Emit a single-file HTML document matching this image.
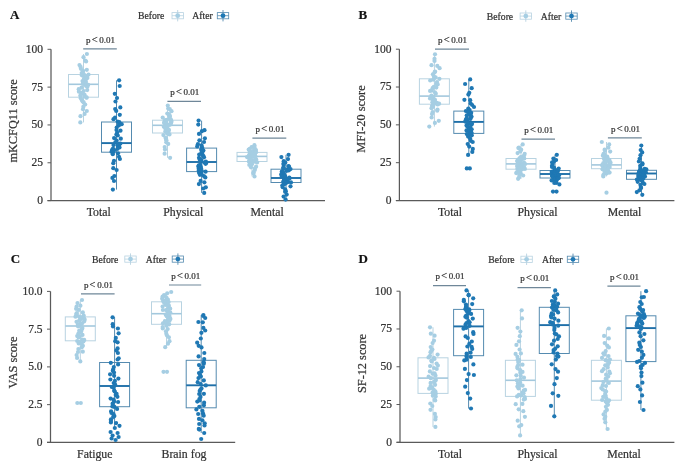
<!DOCTYPE html>
<html><head><meta charset="utf-8"><style>
html,body{margin:0;padding:0;background:#fff;}
svg{display:block;font-family:"Liberation Serif",serif;filter:blur(0.6px);}
text{stroke:#333;stroke-width:0.22px;}
</style></head><body>
<svg width="685" height="469" viewBox="0 0 685 469">
<rect width="685" height="469" fill="#fff"/>
<text x="10.00" y="18.80" font-size="13" text-anchor="start" font-weight="bold" fill="#111" >A</text>
<text x="138.00" y="19.20" font-size="9.7" text-anchor="start" font-weight="normal" fill="#333333" >Before</text>
<text x="192.30" y="19.20" font-size="9.7" text-anchor="start" font-weight="normal" fill="#333333" >After</text>
<line x1="177.70" y1="10.00" x2="177.70" y2="21.40" stroke="#b8d3e1" stroke-width="0.9"/>
<rect x="172.00" y="12.60" width="11.40" height="6.20" fill="none" stroke="#b8d3e1" stroke-width="0.8"/>
<line x1="172.00" y1="15.70" x2="183.40" y2="15.70" stroke="#b8d3e1" stroke-width="0.8"/>
<circle cx="177.7" cy="15.7" r="2.4" fill="#a6cee3"/>
<line x1="223.00" y1="10.00" x2="223.00" y2="21.40" stroke="#558bb0" stroke-width="0.9"/>
<rect x="217.30" y="12.60" width="11.40" height="6.20" fill="none" stroke="#558bb0" stroke-width="0.8"/>
<line x1="217.30" y1="15.70" x2="228.70" y2="15.70" stroke="#558bb0" stroke-width="0.8"/>
<circle cx="223.0" cy="15.7" r="2.4" fill="#1f78b4"/>
<line x1="51.00" y1="49.20" x2="51.00" y2="200.60" stroke="#5a5a5a" stroke-width="1.25"/>
<line x1="47.50" y1="200.60" x2="325.00" y2="200.60" stroke="#5a5a5a" stroke-width="1.25"/>
<line x1="47.50" y1="49.30" x2="51.00" y2="49.30" stroke="#5a5a5a" stroke-width="1.0"/>
<text x="43.00" y="52.70" font-size="11.5" text-anchor="end" font-weight="normal" fill="#333333" >100</text>
<line x1="47.50" y1="87.12" x2="51.00" y2="87.12" stroke="#5a5a5a" stroke-width="1.0"/>
<text x="43.00" y="90.53" font-size="11.5" text-anchor="end" font-weight="normal" fill="#333333" >75</text>
<line x1="47.50" y1="124.95" x2="51.00" y2="124.95" stroke="#5a5a5a" stroke-width="1.0"/>
<text x="43.00" y="128.35" font-size="11.5" text-anchor="end" font-weight="normal" fill="#333333" >50</text>
<line x1="47.50" y1="162.78" x2="51.00" y2="162.78" stroke="#5a5a5a" stroke-width="1.0"/>
<text x="43.00" y="166.18" font-size="11.5" text-anchor="end" font-weight="normal" fill="#333333" >25</text>
<line x1="47.50" y1="200.60" x2="51.00" y2="200.60" stroke="#5a5a5a" stroke-width="1.0"/>
<text x="43.00" y="204.00" font-size="11.5" text-anchor="end" font-weight="normal" fill="#333333" >0</text>
<text x="0" y="0" font-size="12.3" text-anchor="middle" fill="#333333" transform="translate(17,121) rotate(-90)">mKCFQ11 score</text>
<text x="98.70" y="216.00" font-size="11.8" text-anchor="middle" font-weight="normal" fill="#333333" >Total</text>
<text x="183.30" y="216.00" font-size="11.8" text-anchor="middle" font-weight="normal" fill="#333333" >Physical</text>
<text x="267.10" y="216.00" font-size="11.8" text-anchor="middle" font-weight="normal" fill="#333333" >Mental</text>
<line x1="83.50" y1="54.00" x2="83.50" y2="122.40" stroke="#b8d3e1" stroke-width="1.0"/>
<rect x="68.50" y="74.50" width="30.00" height="22.70" fill="none" stroke="#b8d3e1" stroke-width="1.0"/>
<line x1="68.50" y1="84.30" x2="98.50" y2="84.30" stroke="#a3c8dd" stroke-width="1.6"/>
<circle cx="86.9" cy="54.0" r="2.1" fill="#a6cee3"/>
<circle cx="83.5" cy="57.2" r="2.1" fill="#a6cee3"/>
<circle cx="85.2" cy="60.6" r="2.1" fill="#a6cee3"/>
<circle cx="86.1" cy="61.4" r="2.1" fill="#a6cee3"/>
<circle cx="79.5" cy="65.1" r="2.1" fill="#a6cee3"/>
<circle cx="80.6" cy="66.9" r="2.1" fill="#a6cee3"/>
<circle cx="80.9" cy="68.8" r="2.1" fill="#a6cee3"/>
<circle cx="86.8" cy="69.8" r="2.1" fill="#a6cee3"/>
<circle cx="83.1" cy="70.8" r="2.1" fill="#a6cee3"/>
<circle cx="83.0" cy="72.0" r="2.1" fill="#a6cee3"/>
<circle cx="81.7" cy="73.0" r="2.1" fill="#a6cee3"/>
<circle cx="82.3" cy="74.0" r="2.1" fill="#a6cee3"/>
<circle cx="84.0" cy="74.5" r="2.1" fill="#a6cee3"/>
<circle cx="88.5" cy="74.6" r="2.1" fill="#a6cee3"/>
<circle cx="81.9" cy="75.3" r="2.1" fill="#a6cee3"/>
<circle cx="86.9" cy="76.5" r="2.1" fill="#a6cee3"/>
<circle cx="84.7" cy="77.4" r="2.1" fill="#a6cee3"/>
<circle cx="87.4" cy="78.0" r="2.1" fill="#a6cee3"/>
<circle cx="84.0" cy="78.7" r="2.1" fill="#a6cee3"/>
<circle cx="85.8" cy="79.2" r="2.1" fill="#a6cee3"/>
<circle cx="84.0" cy="79.9" r="2.1" fill="#a6cee3"/>
<circle cx="82.5" cy="81.0" r="2.1" fill="#a6cee3"/>
<circle cx="85.8" cy="81.7" r="2.1" fill="#a6cee3"/>
<circle cx="83.4" cy="82.3" r="2.1" fill="#a6cee3"/>
<circle cx="85.7" cy="82.8" r="2.1" fill="#a6cee3"/>
<circle cx="82.8" cy="84.0" r="2.1" fill="#a6cee3"/>
<circle cx="88.2" cy="84.8" r="2.1" fill="#a6cee3"/>
<circle cx="85.9" cy="85.8" r="2.1" fill="#a6cee3"/>
<circle cx="87.4" cy="86.8" r="2.1" fill="#a6cee3"/>
<circle cx="81.5" cy="87.7" r="2.1" fill="#a6cee3"/>
<circle cx="78.7" cy="89.2" r="2.1" fill="#a6cee3"/>
<circle cx="87.2" cy="90.1" r="2.1" fill="#a6cee3"/>
<circle cx="83.7" cy="91.1" r="2.1" fill="#a6cee3"/>
<circle cx="78.9" cy="91.7" r="2.1" fill="#a6cee3"/>
<circle cx="81.0" cy="92.8" r="2.1" fill="#a6cee3"/>
<circle cx="82.4" cy="93.7" r="2.1" fill="#a6cee3"/>
<circle cx="84.6" cy="94.8" r="2.1" fill="#a6cee3"/>
<circle cx="80.3" cy="95.7" r="2.1" fill="#a6cee3"/>
<circle cx="84.4" cy="96.4" r="2.1" fill="#a6cee3"/>
<circle cx="86.5" cy="97.4" r="2.1" fill="#a6cee3"/>
<circle cx="86.6" cy="97.7" r="2.1" fill="#a6cee3"/>
<circle cx="80.8" cy="98.3" r="2.1" fill="#a6cee3"/>
<circle cx="82.0" cy="100.3" r="2.1" fill="#a6cee3"/>
<circle cx="82.6" cy="101.5" r="2.1" fill="#a6cee3"/>
<circle cx="83.7" cy="102.4" r="2.1" fill="#a6cee3"/>
<circle cx="85.2" cy="104.5" r="2.1" fill="#a6cee3"/>
<circle cx="83.4" cy="106.7" r="2.1" fill="#a6cee3"/>
<circle cx="83.0" cy="109.2" r="2.1" fill="#a6cee3"/>
<circle cx="86.8" cy="111.0" r="2.1" fill="#a6cee3"/>
<circle cx="84.6" cy="113.9" r="2.1" fill="#a6cee3"/>
<circle cx="80.5" cy="116.2" r="2.1" fill="#a6cee3"/>
<circle cx="80.3" cy="122.4" r="2.1" fill="#a6cee3"/>
<line x1="116.50" y1="80.30" x2="116.50" y2="189.60" stroke="#558bb0" stroke-width="1.0"/>
<rect x="101.50" y="122.00" width="30.00" height="30.20" fill="none" stroke="#558bb0" stroke-width="1.0"/>
<line x1="101.50" y1="143.10" x2="131.50" y2="143.10" stroke="#1f70a9" stroke-width="1.9"/>
<circle cx="119.1" cy="80.3" r="2.1" fill="#1f78b4"/>
<circle cx="119.7" cy="86.0" r="2.1" fill="#1f78b4"/>
<circle cx="114.8" cy="93.8" r="2.1" fill="#1f78b4"/>
<circle cx="117.0" cy="98.0" r="2.1" fill="#1f78b4"/>
<circle cx="115.5" cy="101.5" r="2.1" fill="#1f78b4"/>
<circle cx="120.3" cy="107.4" r="2.1" fill="#1f78b4"/>
<circle cx="115.2" cy="109.0" r="2.1" fill="#1f78b4"/>
<circle cx="116.2" cy="110.9" r="2.1" fill="#1f78b4"/>
<circle cx="119.8" cy="114.8" r="2.1" fill="#1f78b4"/>
<circle cx="115.0" cy="117.7" r="2.1" fill="#1f78b4"/>
<circle cx="113.5" cy="119.2" r="2.1" fill="#1f78b4"/>
<circle cx="117.6" cy="121.5" r="2.1" fill="#1f78b4"/>
<circle cx="119.3" cy="122.0" r="2.1" fill="#1f78b4"/>
<circle cx="119.1" cy="123.5" r="2.1" fill="#1f78b4"/>
<circle cx="121.7" cy="124.2" r="2.1" fill="#1f78b4"/>
<circle cx="118.9" cy="125.5" r="2.1" fill="#1f78b4"/>
<circle cx="116.7" cy="127.6" r="2.1" fill="#1f78b4"/>
<circle cx="116.5" cy="130.0" r="2.1" fill="#1f78b4"/>
<circle cx="120.5" cy="130.7" r="2.1" fill="#1f78b4"/>
<circle cx="117.2" cy="132.5" r="2.1" fill="#1f78b4"/>
<circle cx="116.4" cy="134.5" r="2.1" fill="#1f78b4"/>
<circle cx="117.8" cy="135.5" r="2.1" fill="#1f78b4"/>
<circle cx="114.1" cy="138.1" r="2.1" fill="#1f78b4"/>
<circle cx="120.8" cy="138.7" r="2.1" fill="#1f78b4"/>
<circle cx="116.7" cy="140.7" r="2.1" fill="#1f78b4"/>
<circle cx="115.3" cy="142.4" r="2.1" fill="#1f78b4"/>
<circle cx="120.4" cy="143.5" r="2.1" fill="#1f78b4"/>
<circle cx="119.5" cy="143.9" r="2.1" fill="#1f78b4"/>
<circle cx="113.5" cy="145.1" r="2.1" fill="#1f78b4"/>
<circle cx="117.6" cy="145.2" r="2.1" fill="#1f78b4"/>
<circle cx="118.8" cy="146.1" r="2.1" fill="#1f78b4"/>
<circle cx="118.9" cy="147.0" r="2.1" fill="#1f78b4"/>
<circle cx="119.5" cy="147.4" r="2.1" fill="#1f78b4"/>
<circle cx="113.0" cy="148.5" r="2.1" fill="#1f78b4"/>
<circle cx="117.5" cy="148.8" r="2.1" fill="#1f78b4"/>
<circle cx="112.0" cy="150.1" r="2.1" fill="#1f78b4"/>
<circle cx="114.1" cy="150.1" r="2.1" fill="#1f78b4"/>
<circle cx="113.6" cy="150.9" r="2.1" fill="#1f78b4"/>
<circle cx="111.5" cy="151.8" r="2.1" fill="#1f78b4"/>
<circle cx="113.1" cy="152.2" r="2.1" fill="#1f78b4"/>
<circle cx="118.0" cy="153.3" r="2.1" fill="#1f78b4"/>
<circle cx="112.8" cy="154.2" r="2.1" fill="#1f78b4"/>
<circle cx="119.0" cy="156.8" r="2.1" fill="#1f78b4"/>
<circle cx="119.9" cy="159.0" r="2.1" fill="#1f78b4"/>
<circle cx="114.0" cy="160.8" r="2.1" fill="#1f78b4"/>
<circle cx="113.3" cy="163.2" r="2.1" fill="#1f78b4"/>
<circle cx="113.3" cy="168.2" r="2.1" fill="#1f78b4"/>
<circle cx="116.6" cy="170.0" r="2.1" fill="#1f78b4"/>
<circle cx="114.4" cy="176.0" r="2.1" fill="#1f78b4"/>
<circle cx="112.4" cy="177.9" r="2.1" fill="#1f78b4"/>
<circle cx="114.0" cy="181.0" r="2.1" fill="#1f78b4"/>
<circle cx="112.9" cy="189.6" r="2.1" fill="#1f78b4"/>
<line x1="167.50" y1="105.60" x2="167.50" y2="157.80" stroke="#b8d3e1" stroke-width="1.0"/>
<rect x="152.50" y="120.20" width="30.00" height="12.80" fill="none" stroke="#b8d3e1" stroke-width="1.0"/>
<line x1="152.50" y1="125.30" x2="182.50" y2="125.30" stroke="#a3c8dd" stroke-width="1.6"/>
<circle cx="167.8" cy="105.6" r="2.1" fill="#a6cee3"/>
<circle cx="168.2" cy="108.5" r="2.1" fill="#a6cee3"/>
<circle cx="169.8" cy="109.2" r="2.1" fill="#a6cee3"/>
<circle cx="171.5" cy="111.2" r="2.1" fill="#a6cee3"/>
<circle cx="167.3" cy="113.6" r="2.1" fill="#a6cee3"/>
<circle cx="168.9" cy="114.0" r="2.1" fill="#a6cee3"/>
<circle cx="169.7" cy="115.7" r="2.1" fill="#a6cee3"/>
<circle cx="169.8" cy="116.3" r="2.1" fill="#a6cee3"/>
<circle cx="162.7" cy="117.6" r="2.1" fill="#a6cee3"/>
<circle cx="169.8" cy="118.6" r="2.1" fill="#a6cee3"/>
<circle cx="170.7" cy="119.4" r="2.1" fill="#a6cee3"/>
<circle cx="166.9" cy="119.9" r="2.1" fill="#a6cee3"/>
<circle cx="165.0" cy="120.2" r="2.1" fill="#a6cee3"/>
<circle cx="171.2" cy="120.3" r="2.1" fill="#a6cee3"/>
<circle cx="165.9" cy="120.8" r="2.1" fill="#a6cee3"/>
<circle cx="166.2" cy="121.1" r="2.1" fill="#a6cee3"/>
<circle cx="171.2" cy="121.6" r="2.1" fill="#a6cee3"/>
<circle cx="171.4" cy="122.1" r="2.1" fill="#a6cee3"/>
<circle cx="164.1" cy="122.4" r="2.1" fill="#a6cee3"/>
<circle cx="171.0" cy="122.9" r="2.1" fill="#a6cee3"/>
<circle cx="164.6" cy="123.2" r="2.1" fill="#a6cee3"/>
<circle cx="166.2" cy="123.6" r="2.1" fill="#a6cee3"/>
<circle cx="170.4" cy="124.1" r="2.1" fill="#a6cee3"/>
<circle cx="166.9" cy="124.4" r="2.1" fill="#a6cee3"/>
<circle cx="170.3" cy="124.6" r="2.1" fill="#a6cee3"/>
<circle cx="168.2" cy="124.9" r="2.1" fill="#a6cee3"/>
<circle cx="165.8" cy="125.7" r="2.1" fill="#a6cee3"/>
<circle cx="167.6" cy="126.5" r="2.1" fill="#a6cee3"/>
<circle cx="163.8" cy="126.7" r="2.1" fill="#a6cee3"/>
<circle cx="165.2" cy="127.1" r="2.1" fill="#a6cee3"/>
<circle cx="165.5" cy="128.0" r="2.1" fill="#a6cee3"/>
<circle cx="165.5" cy="128.8" r="2.1" fill="#a6cee3"/>
<circle cx="166.5" cy="129.4" r="2.1" fill="#a6cee3"/>
<circle cx="168.8" cy="129.8" r="2.1" fill="#a6cee3"/>
<circle cx="168.8" cy="130.4" r="2.1" fill="#a6cee3"/>
<circle cx="166.8" cy="130.9" r="2.1" fill="#a6cee3"/>
<circle cx="165.3" cy="131.4" r="2.1" fill="#a6cee3"/>
<circle cx="167.8" cy="132.1" r="2.1" fill="#a6cee3"/>
<circle cx="167.9" cy="132.7" r="2.1" fill="#a6cee3"/>
<circle cx="168.3" cy="133.1" r="2.1" fill="#a6cee3"/>
<circle cx="167.2" cy="133.7" r="2.1" fill="#a6cee3"/>
<circle cx="169.5" cy="134.4" r="2.1" fill="#a6cee3"/>
<circle cx="163.4" cy="135.1" r="2.1" fill="#a6cee3"/>
<circle cx="165.5" cy="137.8" r="2.1" fill="#a6cee3"/>
<circle cx="166.1" cy="138.9" r="2.1" fill="#a6cee3"/>
<circle cx="166.4" cy="140.3" r="2.1" fill="#a6cee3"/>
<circle cx="166.3" cy="142.3" r="2.1" fill="#a6cee3"/>
<circle cx="168.2" cy="143.9" r="2.1" fill="#a6cee3"/>
<circle cx="164.7" cy="147.1" r="2.1" fill="#a6cee3"/>
<circle cx="165.0" cy="149.5" r="2.1" fill="#a6cee3"/>
<circle cx="164.6" cy="153.7" r="2.1" fill="#a6cee3"/>
<circle cx="170.1" cy="157.8" r="2.1" fill="#a6cee3"/>
<line x1="201.60" y1="120.60" x2="201.60" y2="192.90" stroke="#558bb0" stroke-width="1.0"/>
<rect x="186.60" y="148.10" width="30.00" height="23.50" fill="none" stroke="#558bb0" stroke-width="1.0"/>
<line x1="186.60" y1="162.00" x2="216.60" y2="162.00" stroke="#1f70a9" stroke-width="1.9"/>
<circle cx="198.6" cy="120.6" r="2.1" fill="#1f78b4"/>
<circle cx="198.3" cy="124.6" r="2.1" fill="#1f78b4"/>
<circle cx="204.5" cy="130.2" r="2.1" fill="#1f78b4"/>
<circle cx="201.9" cy="131.2" r="2.1" fill="#1f78b4"/>
<circle cx="199.0" cy="133.9" r="2.1" fill="#1f78b4"/>
<circle cx="204.9" cy="138.3" r="2.1" fill="#1f78b4"/>
<circle cx="199.4" cy="140.3" r="2.1" fill="#1f78b4"/>
<circle cx="204.0" cy="142.0" r="2.1" fill="#1f78b4"/>
<circle cx="197.9" cy="144.2" r="2.1" fill="#1f78b4"/>
<circle cx="201.6" cy="145.4" r="2.1" fill="#1f78b4"/>
<circle cx="197.2" cy="146.4" r="2.1" fill="#1f78b4"/>
<circle cx="201.9" cy="147.7" r="2.1" fill="#1f78b4"/>
<circle cx="202.3" cy="148.1" r="2.1" fill="#1f78b4"/>
<circle cx="201.7" cy="149.0" r="2.1" fill="#1f78b4"/>
<circle cx="201.2" cy="149.8" r="2.1" fill="#1f78b4"/>
<circle cx="203.4" cy="150.6" r="2.1" fill="#1f78b4"/>
<circle cx="202.5" cy="151.4" r="2.1" fill="#1f78b4"/>
<circle cx="201.4" cy="152.9" r="2.1" fill="#1f78b4"/>
<circle cx="199.2" cy="154.5" r="2.1" fill="#1f78b4"/>
<circle cx="202.5" cy="154.7" r="2.1" fill="#1f78b4"/>
<circle cx="203.4" cy="156.0" r="2.1" fill="#1f78b4"/>
<circle cx="204.0" cy="157.3" r="2.1" fill="#1f78b4"/>
<circle cx="199.0" cy="157.8" r="2.1" fill="#1f78b4"/>
<circle cx="199.7" cy="159.5" r="2.1" fill="#1f78b4"/>
<circle cx="201.4" cy="160.1" r="2.1" fill="#1f78b4"/>
<circle cx="205.9" cy="161.7" r="2.1" fill="#1f78b4"/>
<circle cx="204.2" cy="162.5" r="2.1" fill="#1f78b4"/>
<circle cx="206.2" cy="163.0" r="2.1" fill="#1f78b4"/>
<circle cx="205.6" cy="163.8" r="2.1" fill="#1f78b4"/>
<circle cx="200.2" cy="164.8" r="2.1" fill="#1f78b4"/>
<circle cx="198.8" cy="165.3" r="2.1" fill="#1f78b4"/>
<circle cx="200.7" cy="166.4" r="2.1" fill="#1f78b4"/>
<circle cx="198.4" cy="166.5" r="2.1" fill="#1f78b4"/>
<circle cx="200.3" cy="167.4" r="2.1" fill="#1f78b4"/>
<circle cx="201.1" cy="168.6" r="2.1" fill="#1f78b4"/>
<circle cx="198.7" cy="168.7" r="2.1" fill="#1f78b4"/>
<circle cx="199.6" cy="169.9" r="2.1" fill="#1f78b4"/>
<circle cx="198.8" cy="170.5" r="2.1" fill="#1f78b4"/>
<circle cx="201.9" cy="171.0" r="2.1" fill="#1f78b4"/>
<circle cx="205.6" cy="171.7" r="2.1" fill="#1f78b4"/>
<circle cx="201.1" cy="172.0" r="2.1" fill="#1f78b4"/>
<circle cx="199.0" cy="172.8" r="2.1" fill="#1f78b4"/>
<circle cx="201.6" cy="174.3" r="2.1" fill="#1f78b4"/>
<circle cx="199.9" cy="174.8" r="2.1" fill="#1f78b4"/>
<circle cx="203.9" cy="176.1" r="2.1" fill="#1f78b4"/>
<circle cx="205.3" cy="177.4" r="2.1" fill="#1f78b4"/>
<circle cx="200.6" cy="180.9" r="2.1" fill="#1f78b4"/>
<circle cx="204.4" cy="182.3" r="2.1" fill="#1f78b4"/>
<circle cx="198.9" cy="184.1" r="2.1" fill="#1f78b4"/>
<circle cx="205.8" cy="187.3" r="2.1" fill="#1f78b4"/>
<circle cx="203.2" cy="188.5" r="2.1" fill="#1f78b4"/>
<circle cx="204.2" cy="192.9" r="2.1" fill="#1f78b4"/>
<line x1="252.00" y1="145.20" x2="252.00" y2="176.40" stroke="#b8d3e1" stroke-width="1.0"/>
<rect x="237.00" y="152.40" width="30.00" height="9.10" fill="none" stroke="#b8d3e1" stroke-width="1.0"/>
<line x1="237.00" y1="156.40" x2="267.00" y2="156.40" stroke="#a3c8dd" stroke-width="1.6"/>
<circle cx="254.4" cy="145.2" r="2.1" fill="#a6cee3"/>
<circle cx="254.5" cy="146.9" r="2.1" fill="#a6cee3"/>
<circle cx="251.6" cy="147.0" r="2.1" fill="#a6cee3"/>
<circle cx="254.5" cy="148.3" r="2.1" fill="#a6cee3"/>
<circle cx="249.8" cy="148.9" r="2.1" fill="#a6cee3"/>
<circle cx="248.7" cy="149.6" r="2.1" fill="#a6cee3"/>
<circle cx="256.0" cy="150.1" r="2.1" fill="#a6cee3"/>
<circle cx="253.9" cy="150.6" r="2.1" fill="#a6cee3"/>
<circle cx="249.9" cy="151.3" r="2.1" fill="#a6cee3"/>
<circle cx="250.1" cy="151.8" r="2.1" fill="#a6cee3"/>
<circle cx="254.6" cy="152.1" r="2.1" fill="#a6cee3"/>
<circle cx="252.4" cy="152.3" r="2.1" fill="#a6cee3"/>
<circle cx="256.1" cy="152.3" r="2.1" fill="#a6cee3"/>
<circle cx="254.8" cy="152.7" r="2.1" fill="#a6cee3"/>
<circle cx="249.9" cy="152.8" r="2.1" fill="#a6cee3"/>
<circle cx="250.2" cy="153.0" r="2.1" fill="#a6cee3"/>
<circle cx="253.3" cy="153.3" r="2.1" fill="#a6cee3"/>
<circle cx="254.6" cy="153.7" r="2.1" fill="#a6cee3"/>
<circle cx="251.8" cy="154.0" r="2.1" fill="#a6cee3"/>
<circle cx="254.7" cy="154.3" r="2.1" fill="#a6cee3"/>
<circle cx="253.9" cy="154.8" r="2.1" fill="#a6cee3"/>
<circle cx="250.8" cy="155.1" r="2.1" fill="#a6cee3"/>
<circle cx="249.1" cy="155.2" r="2.1" fill="#a6cee3"/>
<circle cx="249.1" cy="155.8" r="2.1" fill="#a6cee3"/>
<circle cx="255.3" cy="156.1" r="2.1" fill="#a6cee3"/>
<circle cx="252.2" cy="156.2" r="2.1" fill="#a6cee3"/>
<circle cx="254.5" cy="156.4" r="2.1" fill="#a6cee3"/>
<circle cx="247.0" cy="157.1" r="2.1" fill="#a6cee3"/>
<circle cx="250.6" cy="157.2" r="2.1" fill="#a6cee3"/>
<circle cx="250.3" cy="157.9" r="2.1" fill="#a6cee3"/>
<circle cx="250.6" cy="158.2" r="2.1" fill="#a6cee3"/>
<circle cx="249.3" cy="158.4" r="2.1" fill="#a6cee3"/>
<circle cx="255.2" cy="159.0" r="2.1" fill="#a6cee3"/>
<circle cx="256.1" cy="159.2" r="2.1" fill="#a6cee3"/>
<circle cx="249.7" cy="159.7" r="2.1" fill="#a6cee3"/>
<circle cx="251.7" cy="160.3" r="2.1" fill="#a6cee3"/>
<circle cx="254.4" cy="160.3" r="2.1" fill="#a6cee3"/>
<circle cx="254.1" cy="160.9" r="2.1" fill="#a6cee3"/>
<circle cx="256.0" cy="161.4" r="2.1" fill="#a6cee3"/>
<circle cx="248.9" cy="161.6" r="2.1" fill="#a6cee3"/>
<circle cx="254.5" cy="161.7" r="2.1" fill="#a6cee3"/>
<circle cx="257.1" cy="162.4" r="2.1" fill="#a6cee3"/>
<circle cx="251.6" cy="163.5" r="2.1" fill="#a6cee3"/>
<circle cx="251.9" cy="164.2" r="2.1" fill="#a6cee3"/>
<circle cx="249.3" cy="164.9" r="2.1" fill="#a6cee3"/>
<circle cx="256.1" cy="166.7" r="2.1" fill="#a6cee3"/>
<circle cx="251.0" cy="167.3" r="2.1" fill="#a6cee3"/>
<circle cx="254.9" cy="168.4" r="2.1" fill="#a6cee3"/>
<circle cx="254.8" cy="170.0" r="2.1" fill="#a6cee3"/>
<circle cx="253.6" cy="172.2" r="2.1" fill="#a6cee3"/>
<circle cx="253.4" cy="173.4" r="2.1" fill="#a6cee3"/>
<circle cx="254.5" cy="176.4" r="2.1" fill="#a6cee3"/>
<line x1="286.00" y1="154.80" x2="286.00" y2="199.60" stroke="#558bb0" stroke-width="1.0"/>
<rect x="271.00" y="169.20" width="30.00" height="13.30" fill="none" stroke="#558bb0" stroke-width="1.0"/>
<line x1="271.00" y1="178.00" x2="301.00" y2="178.00" stroke="#1f70a9" stroke-width="1.9"/>
<circle cx="288.6" cy="154.8" r="2.1" fill="#1f78b4"/>
<circle cx="281.4" cy="157.1" r="2.1" fill="#1f78b4"/>
<circle cx="288.0" cy="159.1" r="2.1" fill="#1f78b4"/>
<circle cx="283.7" cy="161.2" r="2.1" fill="#1f78b4"/>
<circle cx="285.3" cy="162.5" r="2.1" fill="#1f78b4"/>
<circle cx="283.4" cy="163.8" r="2.1" fill="#1f78b4"/>
<circle cx="283.7" cy="165.1" r="2.1" fill="#1f78b4"/>
<circle cx="288.5" cy="166.1" r="2.1" fill="#1f78b4"/>
<circle cx="289.0" cy="166.5" r="2.1" fill="#1f78b4"/>
<circle cx="283.3" cy="167.6" r="2.1" fill="#1f78b4"/>
<circle cx="283.8" cy="168.4" r="2.1" fill="#1f78b4"/>
<circle cx="283.3" cy="168.9" r="2.1" fill="#1f78b4"/>
<circle cx="290.5" cy="169.1" r="2.1" fill="#1f78b4"/>
<circle cx="287.4" cy="169.5" r="2.1" fill="#1f78b4"/>
<circle cx="288.7" cy="170.4" r="2.1" fill="#1f78b4"/>
<circle cx="286.7" cy="170.8" r="2.1" fill="#1f78b4"/>
<circle cx="281.8" cy="171.6" r="2.1" fill="#1f78b4"/>
<circle cx="282.5" cy="172.3" r="2.1" fill="#1f78b4"/>
<circle cx="283.5" cy="172.8" r="2.1" fill="#1f78b4"/>
<circle cx="283.0" cy="173.4" r="2.1" fill="#1f78b4"/>
<circle cx="281.2" cy="174.4" r="2.1" fill="#1f78b4"/>
<circle cx="284.2" cy="174.6" r="2.1" fill="#1f78b4"/>
<circle cx="284.5" cy="175.7" r="2.1" fill="#1f78b4"/>
<circle cx="281.9" cy="176.2" r="2.1" fill="#1f78b4"/>
<circle cx="285.3" cy="176.7" r="2.1" fill="#1f78b4"/>
<circle cx="289.3" cy="177.6" r="2.1" fill="#1f78b4"/>
<circle cx="289.6" cy="178.3" r="2.1" fill="#1f78b4"/>
<circle cx="285.5" cy="178.7" r="2.1" fill="#1f78b4"/>
<circle cx="286.1" cy="179.0" r="2.1" fill="#1f78b4"/>
<circle cx="285.5" cy="179.3" r="2.1" fill="#1f78b4"/>
<circle cx="284.1" cy="179.6" r="2.1" fill="#1f78b4"/>
<circle cx="284.2" cy="180.0" r="2.1" fill="#1f78b4"/>
<circle cx="286.7" cy="180.1" r="2.1" fill="#1f78b4"/>
<circle cx="285.5" cy="180.5" r="2.1" fill="#1f78b4"/>
<circle cx="285.1" cy="180.9" r="2.1" fill="#1f78b4"/>
<circle cx="284.1" cy="181.3" r="2.1" fill="#1f78b4"/>
<circle cx="283.3" cy="181.6" r="2.1" fill="#1f78b4"/>
<circle cx="288.2" cy="181.9" r="2.1" fill="#1f78b4"/>
<circle cx="291.0" cy="182.4" r="2.1" fill="#1f78b4"/>
<circle cx="286.7" cy="182.5" r="2.1" fill="#1f78b4"/>
<circle cx="285.9" cy="182.9" r="2.1" fill="#1f78b4"/>
<circle cx="284.8" cy="183.9" r="2.1" fill="#1f78b4"/>
<circle cx="283.5" cy="184.3" r="2.1" fill="#1f78b4"/>
<circle cx="282.3" cy="185.6" r="2.1" fill="#1f78b4"/>
<circle cx="290.5" cy="186.3" r="2.1" fill="#1f78b4"/>
<circle cx="282.7" cy="187.2" r="2.1" fill="#1f78b4"/>
<circle cx="285.2" cy="189.4" r="2.1" fill="#1f78b4"/>
<circle cx="285.9" cy="191.3" r="2.1" fill="#1f78b4"/>
<circle cx="285.1" cy="191.8" r="2.1" fill="#1f78b4"/>
<circle cx="286.7" cy="194.6" r="2.1" fill="#1f78b4"/>
<circle cx="283.6" cy="196.6" r="2.1" fill="#1f78b4"/>
<circle cx="285.6" cy="199.6" r="2.1" fill="#1f78b4"/>
<line x1="83.20" y1="48.80" x2="116.80" y2="48.80" stroke="#6f8799" stroke-width="1.2"/>
<text x="100.60" y="42.50" font-size="9" text-anchor="middle" font-weight="normal" fill="#333333" >p<tspan font-size="10.5" stroke="#333" stroke-width="0.2" dx="1.2">&lt;</tspan><tspan dx="1.6">0.01</tspan></text>
<line x1="167.40" y1="101.40" x2="201.00" y2="101.40" stroke="#6f8799" stroke-width="1.2"/>
<text x="184.80" y="95.10" font-size="9" text-anchor="middle" font-weight="normal" fill="#333333" >p<tspan font-size="10.5" stroke="#333" stroke-width="0.2" dx="1.2">&lt;</tspan><tspan dx="1.6">0.01</tspan></text>
<line x1="252.40" y1="138.20" x2="286.30" y2="138.20" stroke="#6f8799" stroke-width="1.2"/>
<text x="269.95" y="131.90" font-size="9" text-anchor="middle" font-weight="normal" fill="#333333" >p<tspan font-size="10.5" stroke="#333" stroke-width="0.2" dx="1.2">&lt;</tspan><tspan dx="1.6">0.01</tspan></text>
<text x="358.60" y="19.40" font-size="13" text-anchor="start" font-weight="bold" fill="#111" >B</text>
<text x="486.80" y="19.60" font-size="9.7" text-anchor="start" font-weight="normal" fill="#333333" >Before</text>
<text x="540.80" y="19.60" font-size="9.7" text-anchor="start" font-weight="normal" fill="#333333" >After</text>
<line x1="525.80" y1="10.40" x2="525.80" y2="21.80" stroke="#b8d3e1" stroke-width="0.9"/>
<rect x="520.10" y="13.00" width="11.40" height="6.20" fill="none" stroke="#b8d3e1" stroke-width="0.8"/>
<line x1="520.10" y1="16.10" x2="531.50" y2="16.10" stroke="#b8d3e1" stroke-width="0.8"/>
<circle cx="525.8000000000001" cy="16.1" r="2.4" fill="#a6cee3"/>
<line x1="571.50" y1="10.40" x2="571.50" y2="21.80" stroke="#558bb0" stroke-width="0.9"/>
<rect x="565.80" y="13.00" width="11.40" height="6.20" fill="none" stroke="#558bb0" stroke-width="0.8"/>
<line x1="565.80" y1="16.10" x2="577.20" y2="16.10" stroke="#558bb0" stroke-width="0.8"/>
<circle cx="571.5" cy="16.1" r="2.4" fill="#1f78b4"/>
<line x1="399.40" y1="49.20" x2="399.40" y2="200.50" stroke="#5a5a5a" stroke-width="1.25"/>
<line x1="395.90" y1="200.50" x2="674.40" y2="200.50" stroke="#5a5a5a" stroke-width="1.25"/>
<line x1="395.90" y1="49.20" x2="399.40" y2="49.20" stroke="#5a5a5a" stroke-width="1.0"/>
<text x="391.40" y="52.60" font-size="11.5" text-anchor="end" font-weight="normal" fill="#333333" >100</text>
<line x1="395.90" y1="87.03" x2="399.40" y2="87.03" stroke="#5a5a5a" stroke-width="1.0"/>
<text x="391.40" y="90.43" font-size="11.5" text-anchor="end" font-weight="normal" fill="#333333" >75</text>
<line x1="395.90" y1="124.85" x2="399.40" y2="124.85" stroke="#5a5a5a" stroke-width="1.0"/>
<text x="391.40" y="128.25" font-size="11.5" text-anchor="end" font-weight="normal" fill="#333333" >50</text>
<line x1="395.90" y1="162.68" x2="399.40" y2="162.68" stroke="#5a5a5a" stroke-width="1.0"/>
<text x="391.40" y="166.08" font-size="11.5" text-anchor="end" font-weight="normal" fill="#333333" >25</text>
<line x1="395.90" y1="200.50" x2="399.40" y2="200.50" stroke="#5a5a5a" stroke-width="1.0"/>
<text x="391.40" y="203.90" font-size="11.5" text-anchor="end" font-weight="normal" fill="#333333" >0</text>
<text x="0" y="0" font-size="12.3" text-anchor="middle" fill="#333333" transform="translate(365.4,119) rotate(-90)">MFI-20 score</text>
<text x="450.00" y="216.00" font-size="11.8" text-anchor="middle" font-weight="normal" fill="#333333" >Total</text>
<text x="537.50" y="216.00" font-size="11.8" text-anchor="middle" font-weight="normal" fill="#333333" >Physical</text>
<text x="624.50" y="216.00" font-size="11.8" text-anchor="middle" font-weight="normal" fill="#333333" >Mental</text>
<line x1="434.40" y1="54.30" x2="434.40" y2="126.60" stroke="#b8d3e1" stroke-width="1.0"/>
<rect x="419.40" y="78.80" width="30.00" height="25.40" fill="none" stroke="#b8d3e1" stroke-width="1.0"/>
<line x1="419.40" y1="96.10" x2="449.40" y2="96.10" stroke="#a3c8dd" stroke-width="1.6"/>
<circle cx="435.0" cy="54.3" r="2.1" fill="#a6cee3"/>
<circle cx="434.5" cy="58.8" r="2.1" fill="#a6cee3"/>
<circle cx="434.5" cy="60.9" r="2.1" fill="#a6cee3"/>
<circle cx="431.5" cy="65.2" r="2.1" fill="#a6cee3"/>
<circle cx="437.3" cy="65.9" r="2.1" fill="#a6cee3"/>
<circle cx="439.6" cy="68.2" r="2.1" fill="#a6cee3"/>
<circle cx="435.1" cy="71.6" r="2.1" fill="#a6cee3"/>
<circle cx="434.6" cy="72.2" r="2.1" fill="#a6cee3"/>
<circle cx="432.9" cy="74.3" r="2.1" fill="#a6cee3"/>
<circle cx="433.8" cy="76.1" r="2.1" fill="#a6cee3"/>
<circle cx="435.6" cy="77.3" r="2.1" fill="#a6cee3"/>
<circle cx="434.1" cy="78.3" r="2.1" fill="#a6cee3"/>
<circle cx="439.4" cy="78.8" r="2.1" fill="#a6cee3"/>
<circle cx="433.2" cy="79.7" r="2.1" fill="#a6cee3"/>
<circle cx="430.2" cy="80.5" r="2.1" fill="#a6cee3"/>
<circle cx="437.0" cy="82.0" r="2.1" fill="#a6cee3"/>
<circle cx="436.3" cy="84.1" r="2.1" fill="#a6cee3"/>
<circle cx="437.7" cy="84.4" r="2.1" fill="#a6cee3"/>
<circle cx="433.8" cy="86.8" r="2.1" fill="#a6cee3"/>
<circle cx="436.3" cy="87.6" r="2.1" fill="#a6cee3"/>
<circle cx="432.6" cy="88.2" r="2.1" fill="#a6cee3"/>
<circle cx="431.8" cy="90.5" r="2.1" fill="#a6cee3"/>
<circle cx="430.1" cy="90.9" r="2.1" fill="#a6cee3"/>
<circle cx="434.9" cy="92.3" r="2.1" fill="#a6cee3"/>
<circle cx="435.8" cy="93.7" r="2.1" fill="#a6cee3"/>
<circle cx="431.4" cy="95.6" r="2.1" fill="#a6cee3"/>
<circle cx="431.9" cy="96.2" r="2.1" fill="#a6cee3"/>
<circle cx="432.4" cy="97.2" r="2.1" fill="#a6cee3"/>
<circle cx="433.3" cy="97.5" r="2.1" fill="#a6cee3"/>
<circle cx="430.0" cy="98.4" r="2.1" fill="#a6cee3"/>
<circle cx="432.0" cy="98.7" r="2.1" fill="#a6cee3"/>
<circle cx="433.2" cy="99.4" r="2.1" fill="#a6cee3"/>
<circle cx="435.0" cy="99.9" r="2.1" fill="#a6cee3"/>
<circle cx="433.4" cy="100.8" r="2.1" fill="#a6cee3"/>
<circle cx="434.3" cy="101.7" r="2.1" fill="#a6cee3"/>
<circle cx="432.4" cy="102.2" r="2.1" fill="#a6cee3"/>
<circle cx="436.6" cy="102.9" r="2.1" fill="#a6cee3"/>
<circle cx="437.0" cy="103.1" r="2.1" fill="#a6cee3"/>
<circle cx="439.1" cy="103.7" r="2.1" fill="#a6cee3"/>
<circle cx="433.9" cy="104.3" r="2.1" fill="#a6cee3"/>
<circle cx="437.6" cy="104.5" r="2.1" fill="#a6cee3"/>
<circle cx="432.0" cy="105.8" r="2.1" fill="#a6cee3"/>
<circle cx="433.1" cy="106.7" r="2.1" fill="#a6cee3"/>
<circle cx="431.5" cy="108.2" r="2.1" fill="#a6cee3"/>
<circle cx="437.5" cy="109.5" r="2.1" fill="#a6cee3"/>
<circle cx="437.2" cy="110.7" r="2.1" fill="#a6cee3"/>
<circle cx="432.6" cy="112.1" r="2.1" fill="#a6cee3"/>
<circle cx="432.0" cy="114.1" r="2.1" fill="#a6cee3"/>
<circle cx="431.6" cy="117.5" r="2.1" fill="#a6cee3"/>
<circle cx="438.8" cy="120.8" r="2.1" fill="#a6cee3"/>
<circle cx="434.9" cy="122.9" r="2.1" fill="#a6cee3"/>
<circle cx="429.3" cy="126.6" r="2.1" fill="#a6cee3"/>
<line x1="468.80" y1="79.40" x2="468.80" y2="154.90" stroke="#558bb0" stroke-width="1.0"/>
<rect x="453.80" y="111.10" width="30.00" height="22.30" fill="none" stroke="#558bb0" stroke-width="1.0"/>
<line x1="453.80" y1="121.90" x2="483.80" y2="121.90" stroke="#1f70a9" stroke-width="1.9"/>
<circle cx="470.2" cy="79.4" r="2.1" fill="#1f78b4"/>
<circle cx="465.1" cy="84.0" r="2.1" fill="#1f78b4"/>
<circle cx="471.7" cy="88.2" r="2.1" fill="#1f78b4"/>
<circle cx="469.3" cy="92.8" r="2.1" fill="#1f78b4"/>
<circle cx="468.4" cy="94.6" r="2.1" fill="#1f78b4"/>
<circle cx="464.4" cy="99.8" r="2.1" fill="#1f78b4"/>
<circle cx="470.2" cy="100.2" r="2.1" fill="#1f78b4"/>
<circle cx="470.7" cy="103.5" r="2.1" fill="#1f78b4"/>
<circle cx="472.2" cy="105.0" r="2.1" fill="#1f78b4"/>
<circle cx="474.0" cy="107.0" r="2.1" fill="#1f78b4"/>
<circle cx="468.3" cy="108.6" r="2.1" fill="#1f78b4"/>
<circle cx="469.6" cy="110.1" r="2.1" fill="#1f78b4"/>
<circle cx="465.9" cy="111.0" r="2.1" fill="#1f78b4"/>
<circle cx="468.0" cy="111.8" r="2.1" fill="#1f78b4"/>
<circle cx="468.6" cy="112.4" r="2.1" fill="#1f78b4"/>
<circle cx="471.2" cy="112.8" r="2.1" fill="#1f78b4"/>
<circle cx="470.0" cy="114.4" r="2.1" fill="#1f78b4"/>
<circle cx="470.6" cy="114.7" r="2.1" fill="#1f78b4"/>
<circle cx="466.8" cy="115.3" r="2.1" fill="#1f78b4"/>
<circle cx="471.4" cy="116.5" r="2.1" fill="#1f78b4"/>
<circle cx="471.3" cy="116.9" r="2.1" fill="#1f78b4"/>
<circle cx="466.6" cy="118.2" r="2.1" fill="#1f78b4"/>
<circle cx="470.4" cy="118.9" r="2.1" fill="#1f78b4"/>
<circle cx="465.8" cy="119.9" r="2.1" fill="#1f78b4"/>
<circle cx="467.1" cy="120.3" r="2.1" fill="#1f78b4"/>
<circle cx="465.2" cy="121.6" r="2.1" fill="#1f78b4"/>
<circle cx="467.0" cy="122.1" r="2.1" fill="#1f78b4"/>
<circle cx="468.6" cy="123.6" r="2.1" fill="#1f78b4"/>
<circle cx="472.0" cy="123.8" r="2.1" fill="#1f78b4"/>
<circle cx="471.4" cy="124.7" r="2.1" fill="#1f78b4"/>
<circle cx="466.5" cy="125.4" r="2.1" fill="#1f78b4"/>
<circle cx="467.4" cy="126.6" r="2.1" fill="#1f78b4"/>
<circle cx="470.1" cy="127.2" r="2.1" fill="#1f78b4"/>
<circle cx="468.8" cy="129.0" r="2.1" fill="#1f78b4"/>
<circle cx="471.7" cy="129.3" r="2.1" fill="#1f78b4"/>
<circle cx="466.5" cy="130.4" r="2.1" fill="#1f78b4"/>
<circle cx="469.7" cy="131.2" r="2.1" fill="#1f78b4"/>
<circle cx="471.3" cy="132.5" r="2.1" fill="#1f78b4"/>
<circle cx="471.4" cy="132.8" r="2.1" fill="#1f78b4"/>
<circle cx="468.9" cy="133.6" r="2.1" fill="#1f78b4"/>
<circle cx="466.8" cy="134.1" r="2.1" fill="#1f78b4"/>
<circle cx="470.5" cy="134.5" r="2.1" fill="#1f78b4"/>
<circle cx="471.8" cy="135.3" r="2.1" fill="#1f78b4"/>
<circle cx="468.1" cy="136.6" r="2.1" fill="#1f78b4"/>
<circle cx="470.1" cy="138.5" r="2.1" fill="#1f78b4"/>
<circle cx="470.8" cy="140.8" r="2.1" fill="#1f78b4"/>
<circle cx="472.7" cy="142.0" r="2.1" fill="#1f78b4"/>
<circle cx="467.7" cy="144.0" r="2.1" fill="#1f78b4"/>
<circle cx="469.2" cy="146.6" r="2.1" fill="#1f78b4"/>
<circle cx="472.8" cy="148.9" r="2.1" fill="#1f78b4"/>
<circle cx="472.3" cy="151.9" r="2.1" fill="#1f78b4"/>
<circle cx="468.1" cy="154.9" r="2.1" fill="#1f78b4"/>
<circle cx="466.8" cy="168.4" r="2.1" fill="#1f78b4"/>
<circle cx="469.8" cy="168.4" r="2.1" fill="#1f78b4"/>
<line x1="521.00" y1="144.40" x2="521.00" y2="178.80" stroke="#b8d3e1" stroke-width="1.0"/>
<rect x="506.00" y="158.50" width="30.00" height="10.70" fill="none" stroke="#b8d3e1" stroke-width="1.0"/>
<line x1="506.00" y1="163.90" x2="536.00" y2="163.90" stroke="#a3c8dd" stroke-width="1.6"/>
<circle cx="522.7" cy="144.4" r="2.1" fill="#a6cee3"/>
<circle cx="518.9" cy="147.6" r="2.1" fill="#a6cee3"/>
<circle cx="518.4" cy="148.1" r="2.1" fill="#a6cee3"/>
<circle cx="521.2" cy="149.7" r="2.1" fill="#a6cee3"/>
<circle cx="520.3" cy="151.4" r="2.1" fill="#a6cee3"/>
<circle cx="517.6" cy="153.1" r="2.1" fill="#a6cee3"/>
<circle cx="524.7" cy="153.8" r="2.1" fill="#a6cee3"/>
<circle cx="524.1" cy="155.5" r="2.1" fill="#a6cee3"/>
<circle cx="523.0" cy="156.6" r="2.1" fill="#a6cee3"/>
<circle cx="520.9" cy="157.2" r="2.1" fill="#a6cee3"/>
<circle cx="520.5" cy="157.7" r="2.1" fill="#a6cee3"/>
<circle cx="519.9" cy="158.1" r="2.1" fill="#a6cee3"/>
<circle cx="524.3" cy="158.5" r="2.1" fill="#a6cee3"/>
<circle cx="521.5" cy="158.8" r="2.1" fill="#a6cee3"/>
<circle cx="522.4" cy="159.0" r="2.1" fill="#a6cee3"/>
<circle cx="518.5" cy="159.4" r="2.1" fill="#a6cee3"/>
<circle cx="520.6" cy="159.9" r="2.1" fill="#a6cee3"/>
<circle cx="518.0" cy="160.3" r="2.1" fill="#a6cee3"/>
<circle cx="519.3" cy="160.7" r="2.1" fill="#a6cee3"/>
<circle cx="517.1" cy="161.1" r="2.1" fill="#a6cee3"/>
<circle cx="520.0" cy="161.8" r="2.1" fill="#a6cee3"/>
<circle cx="518.1" cy="162.2" r="2.1" fill="#a6cee3"/>
<circle cx="524.0" cy="162.6" r="2.1" fill="#a6cee3"/>
<circle cx="520.1" cy="162.7" r="2.1" fill="#a6cee3"/>
<circle cx="523.0" cy="163.4" r="2.1" fill="#a6cee3"/>
<circle cx="519.8" cy="163.8" r="2.1" fill="#a6cee3"/>
<circle cx="525.2" cy="164.0" r="2.1" fill="#a6cee3"/>
<circle cx="518.4" cy="164.6" r="2.1" fill="#a6cee3"/>
<circle cx="521.7" cy="165.0" r="2.1" fill="#a6cee3"/>
<circle cx="519.9" cy="165.4" r="2.1" fill="#a6cee3"/>
<circle cx="522.1" cy="165.6" r="2.1" fill="#a6cee3"/>
<circle cx="517.1" cy="166.0" r="2.1" fill="#a6cee3"/>
<circle cx="521.2" cy="166.6" r="2.1" fill="#a6cee3"/>
<circle cx="520.1" cy="166.9" r="2.1" fill="#a6cee3"/>
<circle cx="524.1" cy="167.2" r="2.1" fill="#a6cee3"/>
<circle cx="519.0" cy="167.7" r="2.1" fill="#a6cee3"/>
<circle cx="520.8" cy="168.0" r="2.1" fill="#a6cee3"/>
<circle cx="517.4" cy="168.7" r="2.1" fill="#a6cee3"/>
<circle cx="524.9" cy="169.0" r="2.1" fill="#a6cee3"/>
<circle cx="522.2" cy="169.2" r="2.1" fill="#a6cee3"/>
<circle cx="521.0" cy="169.3" r="2.1" fill="#a6cee3"/>
<circle cx="518.8" cy="169.9" r="2.1" fill="#a6cee3"/>
<circle cx="518.9" cy="170.4" r="2.1" fill="#a6cee3"/>
<circle cx="519.2" cy="170.7" r="2.1" fill="#a6cee3"/>
<circle cx="520.1" cy="171.2" r="2.1" fill="#a6cee3"/>
<circle cx="517.0" cy="172.1" r="2.1" fill="#a6cee3"/>
<circle cx="516.2" cy="173.1" r="2.1" fill="#a6cee3"/>
<circle cx="520.8" cy="173.6" r="2.1" fill="#a6cee3"/>
<circle cx="519.3" cy="174.7" r="2.1" fill="#a6cee3"/>
<circle cx="523.2" cy="175.5" r="2.1" fill="#a6cee3"/>
<circle cx="519.0" cy="177.4" r="2.1" fill="#a6cee3"/>
<circle cx="518.1" cy="178.8" r="2.1" fill="#a6cee3"/>
<line x1="555.00" y1="154.80" x2="555.00" y2="184.40" stroke="#558bb0" stroke-width="1.0"/>
<rect x="540.00" y="170.50" width="30.00" height="7.50" fill="none" stroke="#558bb0" stroke-width="1.0"/>
<line x1="540.00" y1="174.00" x2="570.00" y2="174.00" stroke="#1f70a9" stroke-width="1.9"/>
<circle cx="556.8" cy="154.8" r="2.1" fill="#1f78b4"/>
<circle cx="553.4" cy="158.6" r="2.1" fill="#1f78b4"/>
<circle cx="556.1" cy="160.0" r="2.1" fill="#1f78b4"/>
<circle cx="554.0" cy="161.6" r="2.1" fill="#1f78b4"/>
<circle cx="552.1" cy="162.3" r="2.1" fill="#1f78b4"/>
<circle cx="552.6" cy="164.1" r="2.1" fill="#1f78b4"/>
<circle cx="552.0" cy="165.8" r="2.1" fill="#1f78b4"/>
<circle cx="552.0" cy="167.0" r="2.1" fill="#1f78b4"/>
<circle cx="554.0" cy="167.5" r="2.1" fill="#1f78b4"/>
<circle cx="558.7" cy="168.6" r="2.1" fill="#1f78b4"/>
<circle cx="554.5" cy="169.8" r="2.1" fill="#1f78b4"/>
<circle cx="556.1" cy="170.3" r="2.1" fill="#1f78b4"/>
<circle cx="555.9" cy="170.5" r="2.1" fill="#1f78b4"/>
<circle cx="558.1" cy="170.5" r="2.1" fill="#1f78b4"/>
<circle cx="554.7" cy="170.8" r="2.1" fill="#1f78b4"/>
<circle cx="555.0" cy="171.3" r="2.1" fill="#1f78b4"/>
<circle cx="552.1" cy="171.5" r="2.1" fill="#1f78b4"/>
<circle cx="556.5" cy="171.6" r="2.1" fill="#1f78b4"/>
<circle cx="551.7" cy="172.0" r="2.1" fill="#1f78b4"/>
<circle cx="555.3" cy="172.3" r="2.1" fill="#1f78b4"/>
<circle cx="554.4" cy="172.5" r="2.1" fill="#1f78b4"/>
<circle cx="554.8" cy="172.7" r="2.1" fill="#1f78b4"/>
<circle cx="557.6" cy="173.2" r="2.1" fill="#1f78b4"/>
<circle cx="556.8" cy="173.2" r="2.1" fill="#1f78b4"/>
<circle cx="557.2" cy="173.5" r="2.1" fill="#1f78b4"/>
<circle cx="553.7" cy="173.8" r="2.1" fill="#1f78b4"/>
<circle cx="553.3" cy="174.3" r="2.1" fill="#1f78b4"/>
<circle cx="556.0" cy="174.4" r="2.1" fill="#1f78b4"/>
<circle cx="554.4" cy="174.7" r="2.1" fill="#1f78b4"/>
<circle cx="559.2" cy="175.0" r="2.1" fill="#1f78b4"/>
<circle cx="558.3" cy="175.3" r="2.1" fill="#1f78b4"/>
<circle cx="552.1" cy="175.6" r="2.1" fill="#1f78b4"/>
<circle cx="552.2" cy="175.9" r="2.1" fill="#1f78b4"/>
<circle cx="552.8" cy="176.2" r="2.1" fill="#1f78b4"/>
<circle cx="553.0" cy="176.7" r="2.1" fill="#1f78b4"/>
<circle cx="555.5" cy="176.9" r="2.1" fill="#1f78b4"/>
<circle cx="557.1" cy="177.4" r="2.1" fill="#1f78b4"/>
<circle cx="554.0" cy="177.6" r="2.1" fill="#1f78b4"/>
<circle cx="555.4" cy="178.0" r="2.1" fill="#1f78b4"/>
<circle cx="558.7" cy="178.0" r="2.1" fill="#1f78b4"/>
<circle cx="558.5" cy="178.1" r="2.1" fill="#1f78b4"/>
<circle cx="553.6" cy="178.3" r="2.1" fill="#1f78b4"/>
<circle cx="556.2" cy="178.6" r="2.1" fill="#1f78b4"/>
<circle cx="554.6" cy="179.0" r="2.1" fill="#1f78b4"/>
<circle cx="557.0" cy="179.4" r="2.1" fill="#1f78b4"/>
<circle cx="554.5" cy="179.9" r="2.1" fill="#1f78b4"/>
<circle cx="551.6" cy="180.4" r="2.1" fill="#1f78b4"/>
<circle cx="556.1" cy="180.9" r="2.1" fill="#1f78b4"/>
<circle cx="556.2" cy="181.9" r="2.1" fill="#1f78b4"/>
<circle cx="556.3" cy="182.8" r="2.1" fill="#1f78b4"/>
<circle cx="554.3" cy="182.9" r="2.1" fill="#1f78b4"/>
<circle cx="559.4" cy="184.4" r="2.1" fill="#1f78b4"/>
<circle cx="553.0" cy="191.6" r="2.1" fill="#1f78b4"/>
<circle cx="556.5" cy="191.6" r="2.1" fill="#1f78b4"/>
<line x1="606.50" y1="142.00" x2="606.50" y2="176.40" stroke="#b8d3e1" stroke-width="1.0"/>
<rect x="591.50" y="158.50" width="30.00" height="10.20" fill="none" stroke="#b8d3e1" stroke-width="1.0"/>
<line x1="591.50" y1="164.90" x2="621.50" y2="164.90" stroke="#a3c8dd" stroke-width="1.6"/>
<circle cx="601.8" cy="142.0" r="2.1" fill="#a6cee3"/>
<circle cx="609.2" cy="144.4" r="2.1" fill="#a6cee3"/>
<circle cx="608.4" cy="147.7" r="2.1" fill="#a6cee3"/>
<circle cx="604.6" cy="149.7" r="2.1" fill="#a6cee3"/>
<circle cx="605.0" cy="150.8" r="2.1" fill="#a6cee3"/>
<circle cx="610.2" cy="151.6" r="2.1" fill="#a6cee3"/>
<circle cx="603.6" cy="153.8" r="2.1" fill="#a6cee3"/>
<circle cx="604.3" cy="154.7" r="2.1" fill="#a6cee3"/>
<circle cx="602.9" cy="155.7" r="2.1" fill="#a6cee3"/>
<circle cx="607.2" cy="156.6" r="2.1" fill="#a6cee3"/>
<circle cx="605.5" cy="157.6" r="2.1" fill="#a6cee3"/>
<circle cx="606.4" cy="158.3" r="2.1" fill="#a6cee3"/>
<circle cx="604.2" cy="158.3" r="2.1" fill="#a6cee3"/>
<circle cx="608.3" cy="159.0" r="2.1" fill="#a6cee3"/>
<circle cx="606.4" cy="159.1" r="2.1" fill="#a6cee3"/>
<circle cx="604.3" cy="159.5" r="2.1" fill="#a6cee3"/>
<circle cx="609.4" cy="160.2" r="2.1" fill="#a6cee3"/>
<circle cx="606.5" cy="160.7" r="2.1" fill="#a6cee3"/>
<circle cx="605.5" cy="161.4" r="2.1" fill="#a6cee3"/>
<circle cx="608.9" cy="161.6" r="2.1" fill="#a6cee3"/>
<circle cx="605.2" cy="162.4" r="2.1" fill="#a6cee3"/>
<circle cx="610.5" cy="162.5" r="2.1" fill="#a6cee3"/>
<circle cx="603.3" cy="163.2" r="2.1" fill="#a6cee3"/>
<circle cx="610.1" cy="163.6" r="2.1" fill="#a6cee3"/>
<circle cx="605.3" cy="164.3" r="2.1" fill="#a6cee3"/>
<circle cx="609.3" cy="164.8" r="2.1" fill="#a6cee3"/>
<circle cx="606.3" cy="165.0" r="2.1" fill="#a6cee3"/>
<circle cx="602.1" cy="165.2" r="2.1" fill="#a6cee3"/>
<circle cx="606.1" cy="165.7" r="2.1" fill="#a6cee3"/>
<circle cx="607.8" cy="166.0" r="2.1" fill="#a6cee3"/>
<circle cx="602.9" cy="166.1" r="2.1" fill="#a6cee3"/>
<circle cx="605.6" cy="166.6" r="2.1" fill="#a6cee3"/>
<circle cx="608.3" cy="166.8" r="2.1" fill="#a6cee3"/>
<circle cx="609.7" cy="167.0" r="2.1" fill="#a6cee3"/>
<circle cx="608.7" cy="167.5" r="2.1" fill="#a6cee3"/>
<circle cx="605.3" cy="167.7" r="2.1" fill="#a6cee3"/>
<circle cx="604.1" cy="168.0" r="2.1" fill="#a6cee3"/>
<circle cx="604.7" cy="168.4" r="2.1" fill="#a6cee3"/>
<circle cx="605.2" cy="168.6" r="2.1" fill="#a6cee3"/>
<circle cx="608.0" cy="168.7" r="2.1" fill="#a6cee3"/>
<circle cx="603.1" cy="168.8" r="2.1" fill="#a6cee3"/>
<circle cx="602.5" cy="169.2" r="2.1" fill="#a6cee3"/>
<circle cx="604.8" cy="169.6" r="2.1" fill="#a6cee3"/>
<circle cx="603.5" cy="169.8" r="2.1" fill="#a6cee3"/>
<circle cx="606.9" cy="170.6" r="2.1" fill="#a6cee3"/>
<circle cx="605.5" cy="171.3" r="2.1" fill="#a6cee3"/>
<circle cx="608.3" cy="171.4" r="2.1" fill="#a6cee3"/>
<circle cx="609.6" cy="172.6" r="2.1" fill="#a6cee3"/>
<circle cx="607.0" cy="173.3" r="2.1" fill="#a6cee3"/>
<circle cx="604.2" cy="173.9" r="2.1" fill="#a6cee3"/>
<circle cx="603.3" cy="175.0" r="2.1" fill="#a6cee3"/>
<circle cx="603.3" cy="176.4" r="2.1" fill="#a6cee3"/>
<circle cx="606.5" cy="192.7" r="2.1" fill="#a6cee3"/>
<line x1="641.50" y1="145.50" x2="641.50" y2="194.80" stroke="#558bb0" stroke-width="1.0"/>
<rect x="626.50" y="170.30" width="30.00" height="9.00" fill="none" stroke="#558bb0" stroke-width="1.0"/>
<line x1="626.50" y1="173.50" x2="656.50" y2="173.50" stroke="#1f70a9" stroke-width="1.9"/>
<circle cx="641.3" cy="145.5" r="2.1" fill="#1f78b4"/>
<circle cx="640.7" cy="150.0" r="2.1" fill="#1f78b4"/>
<circle cx="642.2" cy="152.4" r="2.1" fill="#1f78b4"/>
<circle cx="640.5" cy="155.2" r="2.1" fill="#1f78b4"/>
<circle cx="639.6" cy="158.8" r="2.1" fill="#1f78b4"/>
<circle cx="638.9" cy="161.5" r="2.1" fill="#1f78b4"/>
<circle cx="642.4" cy="163.3" r="2.1" fill="#1f78b4"/>
<circle cx="642.4" cy="164.5" r="2.1" fill="#1f78b4"/>
<circle cx="640.2" cy="165.8" r="2.1" fill="#1f78b4"/>
<circle cx="640.3" cy="168.0" r="2.1" fill="#1f78b4"/>
<circle cx="644.7" cy="168.9" r="2.1" fill="#1f78b4"/>
<circle cx="646.3" cy="169.3" r="2.1" fill="#1f78b4"/>
<circle cx="641.7" cy="170.3" r="2.1" fill="#1f78b4"/>
<circle cx="639.9" cy="170.3" r="2.1" fill="#1f78b4"/>
<circle cx="643.4" cy="170.6" r="2.1" fill="#1f78b4"/>
<circle cx="644.3" cy="170.8" r="2.1" fill="#1f78b4"/>
<circle cx="641.3" cy="171.3" r="2.1" fill="#1f78b4"/>
<circle cx="642.4" cy="171.4" r="2.1" fill="#1f78b4"/>
<circle cx="639.1" cy="171.5" r="2.1" fill="#1f78b4"/>
<circle cx="640.4" cy="171.9" r="2.1" fill="#1f78b4"/>
<circle cx="640.8" cy="172.2" r="2.1" fill="#1f78b4"/>
<circle cx="645.9" cy="172.4" r="2.1" fill="#1f78b4"/>
<circle cx="643.6" cy="172.7" r="2.1" fill="#1f78b4"/>
<circle cx="639.0" cy="172.8" r="2.1" fill="#1f78b4"/>
<circle cx="642.8" cy="173.0" r="2.1" fill="#1f78b4"/>
<circle cx="643.5" cy="173.3" r="2.1" fill="#1f78b4"/>
<circle cx="638.4" cy="173.8" r="2.1" fill="#1f78b4"/>
<circle cx="639.7" cy="174.1" r="2.1" fill="#1f78b4"/>
<circle cx="644.0" cy="174.6" r="2.1" fill="#1f78b4"/>
<circle cx="640.9" cy="174.9" r="2.1" fill="#1f78b4"/>
<circle cx="643.3" cy="175.5" r="2.1" fill="#1f78b4"/>
<circle cx="638.4" cy="175.7" r="2.1" fill="#1f78b4"/>
<circle cx="645.0" cy="176.5" r="2.1" fill="#1f78b4"/>
<circle cx="639.3" cy="176.7" r="2.1" fill="#1f78b4"/>
<circle cx="638.5" cy="177.1" r="2.1" fill="#1f78b4"/>
<circle cx="638.8" cy="177.9" r="2.1" fill="#1f78b4"/>
<circle cx="641.0" cy="178.4" r="2.1" fill="#1f78b4"/>
<circle cx="643.2" cy="178.5" r="2.1" fill="#1f78b4"/>
<circle cx="639.2" cy="179.2" r="2.1" fill="#1f78b4"/>
<circle cx="640.1" cy="179.3" r="2.1" fill="#1f78b4"/>
<circle cx="636.9" cy="179.5" r="2.1" fill="#1f78b4"/>
<circle cx="641.5" cy="180.1" r="2.1" fill="#1f78b4"/>
<circle cx="642.2" cy="180.9" r="2.1" fill="#1f78b4"/>
<circle cx="637.7" cy="181.8" r="2.1" fill="#1f78b4"/>
<circle cx="643.1" cy="183.1" r="2.1" fill="#1f78b4"/>
<circle cx="644.4" cy="184.0" r="2.1" fill="#1f78b4"/>
<circle cx="640.4" cy="184.8" r="2.1" fill="#1f78b4"/>
<circle cx="640.8" cy="187.1" r="2.1" fill="#1f78b4"/>
<circle cx="641.1" cy="187.9" r="2.1" fill="#1f78b4"/>
<circle cx="639.4" cy="190.3" r="2.1" fill="#1f78b4"/>
<circle cx="636.8" cy="192.1" r="2.1" fill="#1f78b4"/>
<circle cx="642.3" cy="194.8" r="2.1" fill="#1f78b4"/>
<line x1="435.00" y1="49.20" x2="469.00" y2="49.20" stroke="#6f8799" stroke-width="1.2"/>
<text x="452.60" y="42.90" font-size="9" text-anchor="middle" font-weight="normal" fill="#333333" >p<tspan font-size="10.5" stroke="#333" stroke-width="0.2" dx="1.2">&lt;</tspan><tspan dx="1.6">0.01</tspan></text>
<line x1="521.50" y1="139.20" x2="555.00" y2="139.20" stroke="#6f8799" stroke-width="1.2"/>
<text x="538.85" y="132.90" font-size="9" text-anchor="middle" font-weight="normal" fill="#333333" >p<tspan font-size="10.5" stroke="#333" stroke-width="0.2" dx="1.2">&lt;</tspan><tspan dx="1.6">0.01</tspan></text>
<line x1="607.90" y1="137.80" x2="641.80" y2="137.80" stroke="#6f8799" stroke-width="1.2"/>
<text x="625.45" y="131.50" font-size="9" text-anchor="middle" font-weight="normal" fill="#333333" >p<tspan font-size="10.5" stroke="#333" stroke-width="0.2" dx="1.2">&lt;</tspan><tspan dx="1.6">0.01</tspan></text>
<text x="10.80" y="262.70" font-size="13" text-anchor="start" font-weight="bold" fill="#111" >C</text>
<text x="92.00" y="262.60" font-size="9.7" text-anchor="start" font-weight="normal" fill="#333333" >Before</text>
<text x="145.80" y="262.60" font-size="9.7" text-anchor="start" font-weight="normal" fill="#333333" >After</text>
<line x1="130.50" y1="253.40" x2="130.50" y2="264.80" stroke="#b8d3e1" stroke-width="0.9"/>
<rect x="124.80" y="256.00" width="11.40" height="6.20" fill="none" stroke="#b8d3e1" stroke-width="0.8"/>
<line x1="124.80" y1="259.10" x2="136.20" y2="259.10" stroke="#b8d3e1" stroke-width="0.8"/>
<circle cx="130.5" cy="259.1" r="2.4" fill="#a6cee3"/>
<line x1="177.90" y1="253.40" x2="177.90" y2="264.80" stroke="#558bb0" stroke-width="0.9"/>
<rect x="172.20" y="256.00" width="11.40" height="6.20" fill="none" stroke="#558bb0" stroke-width="0.8"/>
<line x1="172.20" y1="259.10" x2="183.60" y2="259.10" stroke="#558bb0" stroke-width="0.8"/>
<circle cx="177.89999999999998" cy="259.1" r="2.4" fill="#1f78b4"/>
<line x1="50.50" y1="291.40" x2="50.50" y2="442.40" stroke="#5a5a5a" stroke-width="1.25"/>
<line x1="47.00" y1="442.40" x2="235.20" y2="442.40" stroke="#5a5a5a" stroke-width="1.25"/>
<line x1="47.00" y1="291.40" x2="50.50" y2="291.40" stroke="#5a5a5a" stroke-width="1.0"/>
<text x="42.50" y="294.80" font-size="11.5" text-anchor="end" font-weight="normal" fill="#333333" >10.0</text>
<line x1="47.00" y1="329.15" x2="50.50" y2="329.15" stroke="#5a5a5a" stroke-width="1.0"/>
<text x="42.50" y="332.55" font-size="11.5" text-anchor="end" font-weight="normal" fill="#333333" >7.5</text>
<line x1="47.00" y1="366.90" x2="50.50" y2="366.90" stroke="#5a5a5a" stroke-width="1.0"/>
<text x="42.50" y="370.30" font-size="11.5" text-anchor="end" font-weight="normal" fill="#333333" >5.0</text>
<line x1="47.00" y1="404.65" x2="50.50" y2="404.65" stroke="#5a5a5a" stroke-width="1.0"/>
<text x="42.50" y="408.05" font-size="11.5" text-anchor="end" font-weight="normal" fill="#333333" >2.5</text>
<line x1="47.00" y1="442.40" x2="50.50" y2="442.40" stroke="#5a5a5a" stroke-width="1.0"/>
<text x="42.50" y="445.80" font-size="11.5" text-anchor="end" font-weight="normal" fill="#333333" >0</text>
<text x="0" y="0" font-size="12.3" text-anchor="middle" fill="#333333" transform="translate(16.5,362.6) rotate(-90)">VAS score</text>
<text x="94.80" y="458.00" font-size="11.8" text-anchor="middle" font-weight="normal" fill="#333333" >Fatigue</text>
<text x="184.00" y="458.00" font-size="11.8" text-anchor="middle" font-weight="normal" fill="#333333" >Brain fog</text>
<line x1="80.30" y1="300.00" x2="80.30" y2="361.40" stroke="#b8d3e1" stroke-width="1.0"/>
<rect x="65.30" y="316.90" width="30.00" height="23.90" fill="none" stroke="#b8d3e1" stroke-width="1.0"/>
<line x1="65.30" y1="326.00" x2="95.30" y2="326.00" stroke="#a3c8dd" stroke-width="1.6"/>
<circle cx="82.0" cy="300.0" r="2.1" fill="#a6cee3"/>
<circle cx="77.5" cy="303.1" r="2.1" fill="#a6cee3"/>
<circle cx="80.4" cy="305.7" r="2.1" fill="#a6cee3"/>
<circle cx="76.6" cy="306.5" r="2.1" fill="#a6cee3"/>
<circle cx="76.1" cy="308.8" r="2.1" fill="#a6cee3"/>
<circle cx="78.8" cy="309.9" r="2.1" fill="#a6cee3"/>
<circle cx="82.8" cy="312.4" r="2.1" fill="#a6cee3"/>
<circle cx="76.9" cy="313.1" r="2.1" fill="#a6cee3"/>
<circle cx="76.2" cy="314.1" r="2.1" fill="#a6cee3"/>
<circle cx="76.8" cy="315.0" r="2.1" fill="#a6cee3"/>
<circle cx="83.7" cy="315.6" r="2.1" fill="#a6cee3"/>
<circle cx="79.0" cy="316.5" r="2.1" fill="#a6cee3"/>
<circle cx="75.5" cy="316.7" r="2.1" fill="#a6cee3"/>
<circle cx="82.2" cy="317.1" r="2.1" fill="#a6cee3"/>
<circle cx="84.1" cy="318.3" r="2.1" fill="#a6cee3"/>
<circle cx="81.1" cy="318.8" r="2.1" fill="#a6cee3"/>
<circle cx="80.1" cy="319.1" r="2.1" fill="#a6cee3"/>
<circle cx="84.7" cy="319.8" r="2.1" fill="#a6cee3"/>
<circle cx="79.2" cy="320.7" r="2.1" fill="#a6cee3"/>
<circle cx="84.1" cy="321.4" r="2.1" fill="#a6cee3"/>
<circle cx="76.5" cy="321.8" r="2.1" fill="#a6cee3"/>
<circle cx="80.3" cy="323.2" r="2.1" fill="#a6cee3"/>
<circle cx="82.0" cy="323.6" r="2.1" fill="#a6cee3"/>
<circle cx="80.8" cy="324.3" r="2.1" fill="#a6cee3"/>
<circle cx="77.9" cy="324.7" r="2.1" fill="#a6cee3"/>
<circle cx="79.0" cy="325.9" r="2.1" fill="#a6cee3"/>
<circle cx="78.0" cy="326.3" r="2.1" fill="#a6cee3"/>
<circle cx="82.4" cy="328.1" r="2.1" fill="#a6cee3"/>
<circle cx="82.1" cy="329.1" r="2.1" fill="#a6cee3"/>
<circle cx="79.3" cy="330.5" r="2.1" fill="#a6cee3"/>
<circle cx="81.2" cy="331.6" r="2.1" fill="#a6cee3"/>
<circle cx="79.4" cy="332.3" r="2.1" fill="#a6cee3"/>
<circle cx="78.3" cy="333.8" r="2.1" fill="#a6cee3"/>
<circle cx="82.5" cy="334.9" r="2.1" fill="#a6cee3"/>
<circle cx="77.2" cy="336.1" r="2.1" fill="#a6cee3"/>
<circle cx="79.8" cy="336.6" r="2.1" fill="#a6cee3"/>
<circle cx="78.6" cy="337.5" r="2.1" fill="#a6cee3"/>
<circle cx="82.3" cy="339.6" r="2.1" fill="#a6cee3"/>
<circle cx="84.2" cy="339.9" r="2.1" fill="#a6cee3"/>
<circle cx="77.2" cy="341.0" r="2.1" fill="#a6cee3"/>
<circle cx="83.4" cy="341.5" r="2.1" fill="#a6cee3"/>
<circle cx="79.7" cy="342.1" r="2.1" fill="#a6cee3"/>
<circle cx="78.7" cy="343.4" r="2.1" fill="#a6cee3"/>
<circle cx="81.8" cy="343.9" r="2.1" fill="#a6cee3"/>
<circle cx="82.9" cy="345.8" r="2.1" fill="#a6cee3"/>
<circle cx="81.8" cy="347.3" r="2.1" fill="#a6cee3"/>
<circle cx="78.4" cy="349.0" r="2.1" fill="#a6cee3"/>
<circle cx="82.8" cy="351.7" r="2.1" fill="#a6cee3"/>
<circle cx="78.0" cy="352.0" r="2.1" fill="#a6cee3"/>
<circle cx="76.6" cy="355.0" r="2.1" fill="#a6cee3"/>
<circle cx="77.1" cy="357.9" r="2.1" fill="#a6cee3"/>
<circle cx="80.3" cy="361.4" r="2.1" fill="#a6cee3"/>
<circle cx="77.3" cy="403.0" r="2.1" fill="#a6cee3"/>
<circle cx="80.8" cy="403.0" r="2.1" fill="#a6cee3"/>
<line x1="114.60" y1="317.30" x2="114.60" y2="428.00" stroke="#558bb0" stroke-width="1.0"/>
<rect x="99.60" y="362.50" width="30.00" height="44.20" fill="none" stroke="#558bb0" stroke-width="1.0"/>
<line x1="99.60" y1="386.00" x2="129.60" y2="386.00" stroke="#1f70a9" stroke-width="1.9"/>
<circle cx="112.6" cy="317.3" r="2.1" fill="#1f78b4"/>
<circle cx="112.7" cy="324.2" r="2.1" fill="#1f78b4"/>
<circle cx="113.0" cy="326.5" r="2.1" fill="#1f78b4"/>
<circle cx="117.9" cy="328.5" r="2.1" fill="#1f78b4"/>
<circle cx="118.6" cy="333.3" r="2.1" fill="#1f78b4"/>
<circle cx="115.8" cy="337.9" r="2.1" fill="#1f78b4"/>
<circle cx="115.2" cy="341.2" r="2.1" fill="#1f78b4"/>
<circle cx="117.6" cy="342.3" r="2.1" fill="#1f78b4"/>
<circle cx="117.6" cy="348.4" r="2.1" fill="#1f78b4"/>
<circle cx="116.4" cy="350.6" r="2.1" fill="#1f78b4"/>
<circle cx="117.9" cy="353.0" r="2.1" fill="#1f78b4"/>
<circle cx="118.7" cy="358.3" r="2.1" fill="#1f78b4"/>
<circle cx="117.6" cy="359.5" r="2.1" fill="#1f78b4"/>
<circle cx="110.8" cy="362.8" r="2.1" fill="#1f78b4"/>
<circle cx="118.1" cy="364.4" r="2.1" fill="#1f78b4"/>
<circle cx="113.8" cy="367.1" r="2.1" fill="#1f78b4"/>
<circle cx="113.1" cy="369.6" r="2.1" fill="#1f78b4"/>
<circle cx="112.8" cy="370.8" r="2.1" fill="#1f78b4"/>
<circle cx="114.0" cy="372.5" r="2.1" fill="#1f78b4"/>
<circle cx="110.1" cy="374.3" r="2.1" fill="#1f78b4"/>
<circle cx="114.1" cy="375.8" r="2.1" fill="#1f78b4"/>
<circle cx="118.4" cy="378.6" r="2.1" fill="#1f78b4"/>
<circle cx="110.4" cy="379.5" r="2.1" fill="#1f78b4"/>
<circle cx="114.9" cy="380.9" r="2.1" fill="#1f78b4"/>
<circle cx="113.7" cy="383.0" r="2.1" fill="#1f78b4"/>
<circle cx="115.0" cy="384.3" r="2.1" fill="#1f78b4"/>
<circle cx="111.8" cy="387.0" r="2.1" fill="#1f78b4"/>
<circle cx="113.7" cy="387.7" r="2.1" fill="#1f78b4"/>
<circle cx="114.2" cy="390.7" r="2.1" fill="#1f78b4"/>
<circle cx="114.8" cy="391.6" r="2.1" fill="#1f78b4"/>
<circle cx="116.6" cy="393.9" r="2.1" fill="#1f78b4"/>
<circle cx="115.7" cy="395.1" r="2.1" fill="#1f78b4"/>
<circle cx="117.4" cy="396.8" r="2.1" fill="#1f78b4"/>
<circle cx="110.6" cy="398.6" r="2.1" fill="#1f78b4"/>
<circle cx="113.6" cy="399.7" r="2.1" fill="#1f78b4"/>
<circle cx="114.1" cy="401.4" r="2.1" fill="#1f78b4"/>
<circle cx="118.1" cy="402.0" r="2.1" fill="#1f78b4"/>
<circle cx="112.6" cy="403.7" r="2.1" fill="#1f78b4"/>
<circle cx="112.4" cy="406.5" r="2.1" fill="#1f78b4"/>
<circle cx="114.4" cy="406.9" r="2.1" fill="#1f78b4"/>
<circle cx="117.1" cy="408.9" r="2.1" fill="#1f78b4"/>
<circle cx="111.1" cy="411.3" r="2.1" fill="#1f78b4"/>
<circle cx="111.5" cy="413.0" r="2.1" fill="#1f78b4"/>
<circle cx="113.5" cy="414.1" r="2.1" fill="#1f78b4"/>
<circle cx="114.4" cy="416.1" r="2.1" fill="#1f78b4"/>
<circle cx="113.2" cy="416.9" r="2.1" fill="#1f78b4"/>
<circle cx="111.0" cy="419.3" r="2.1" fill="#1f78b4"/>
<circle cx="110.9" cy="420.9" r="2.1" fill="#1f78b4"/>
<circle cx="110.9" cy="422.4" r="2.1" fill="#1f78b4"/>
<circle cx="116.1" cy="423.1" r="2.1" fill="#1f78b4"/>
<circle cx="119.5" cy="425.8" r="2.1" fill="#1f78b4"/>
<circle cx="114.8" cy="428.0" r="2.1" fill="#1f78b4"/>
<circle cx="110.6" cy="432.0" r="2.1" fill="#1f78b4"/>
<circle cx="117.6" cy="433.0" r="2.1" fill="#1f78b4"/>
<circle cx="112.6" cy="435.5" r="2.1" fill="#1f78b4"/>
<circle cx="118.6" cy="437.0" r="2.1" fill="#1f78b4"/>
<circle cx="111.6" cy="438.5" r="2.1" fill="#1f78b4"/>
<circle cx="115.6" cy="440.0" r="2.1" fill="#1f78b4"/>
<line x1="166.50" y1="292.00" x2="166.50" y2="347.20" stroke="#b8d3e1" stroke-width="1.0"/>
<rect x="151.50" y="301.80" width="30.00" height="22.50" fill="none" stroke="#b8d3e1" stroke-width="1.0"/>
<line x1="151.50" y1="313.70" x2="181.50" y2="313.70" stroke="#a3c8dd" stroke-width="1.6"/>
<circle cx="171.2" cy="292.0" r="2.1" fill="#a6cee3"/>
<circle cx="167.2" cy="293.3" r="2.1" fill="#a6cee3"/>
<circle cx="164.1" cy="295.0" r="2.1" fill="#a6cee3"/>
<circle cx="164.3" cy="296.0" r="2.1" fill="#a6cee3"/>
<circle cx="162.6" cy="296.6" r="2.1" fill="#a6cee3"/>
<circle cx="166.6" cy="297.9" r="2.1" fill="#a6cee3"/>
<circle cx="162.2" cy="298.7" r="2.1" fill="#a6cee3"/>
<circle cx="167.9" cy="299.6" r="2.1" fill="#a6cee3"/>
<circle cx="165.2" cy="300.5" r="2.1" fill="#a6cee3"/>
<circle cx="167.2" cy="300.7" r="2.1" fill="#a6cee3"/>
<circle cx="163.1" cy="301.1" r="2.1" fill="#a6cee3"/>
<circle cx="167.2" cy="301.6" r="2.1" fill="#a6cee3"/>
<circle cx="164.4" cy="301.8" r="2.1" fill="#a6cee3"/>
<circle cx="168.6" cy="302.1" r="2.1" fill="#a6cee3"/>
<circle cx="164.2" cy="302.8" r="2.1" fill="#a6cee3"/>
<circle cx="167.2" cy="303.9" r="2.1" fill="#a6cee3"/>
<circle cx="165.6" cy="304.8" r="2.1" fill="#a6cee3"/>
<circle cx="168.9" cy="305.7" r="2.1" fill="#a6cee3"/>
<circle cx="162.6" cy="306.6" r="2.1" fill="#a6cee3"/>
<circle cx="168.7" cy="307.9" r="2.1" fill="#a6cee3"/>
<circle cx="170.2" cy="308.7" r="2.1" fill="#a6cee3"/>
<circle cx="162.9" cy="310.0" r="2.1" fill="#a6cee3"/>
<circle cx="166.0" cy="310.1" r="2.1" fill="#a6cee3"/>
<circle cx="168.5" cy="311.7" r="2.1" fill="#a6cee3"/>
<circle cx="170.3" cy="312.6" r="2.1" fill="#a6cee3"/>
<circle cx="168.3" cy="313.7" r="2.1" fill="#a6cee3"/>
<circle cx="165.7" cy="314.5" r="2.1" fill="#a6cee3"/>
<circle cx="166.3" cy="314.6" r="2.1" fill="#a6cee3"/>
<circle cx="169.5" cy="316.1" r="2.1" fill="#a6cee3"/>
<circle cx="166.7" cy="316.2" r="2.1" fill="#a6cee3"/>
<circle cx="168.7" cy="317.4" r="2.1" fill="#a6cee3"/>
<circle cx="169.7" cy="318.1" r="2.1" fill="#a6cee3"/>
<circle cx="170.4" cy="318.9" r="2.1" fill="#a6cee3"/>
<circle cx="168.0" cy="320.1" r="2.1" fill="#a6cee3"/>
<circle cx="169.5" cy="320.8" r="2.1" fill="#a6cee3"/>
<circle cx="164.9" cy="321.2" r="2.1" fill="#a6cee3"/>
<circle cx="167.0" cy="322.5" r="2.1" fill="#a6cee3"/>
<circle cx="163.0" cy="323.3" r="2.1" fill="#a6cee3"/>
<circle cx="167.1" cy="323.8" r="2.1" fill="#a6cee3"/>
<circle cx="169.2" cy="324.3" r="2.1" fill="#a6cee3"/>
<circle cx="166.8" cy="324.9" r="2.1" fill="#a6cee3"/>
<circle cx="166.3" cy="325.7" r="2.1" fill="#a6cee3"/>
<circle cx="162.7" cy="327.0" r="2.1" fill="#a6cee3"/>
<circle cx="162.8" cy="328.5" r="2.1" fill="#a6cee3"/>
<circle cx="167.7" cy="329.1" r="2.1" fill="#a6cee3"/>
<circle cx="166.0" cy="331.3" r="2.1" fill="#a6cee3"/>
<circle cx="166.3" cy="333.7" r="2.1" fill="#a6cee3"/>
<circle cx="167.0" cy="335.5" r="2.1" fill="#a6cee3"/>
<circle cx="168.9" cy="337.3" r="2.1" fill="#a6cee3"/>
<circle cx="169.5" cy="341.2" r="2.1" fill="#a6cee3"/>
<circle cx="168.0" cy="343.7" r="2.1" fill="#a6cee3"/>
<circle cx="165.2" cy="347.2" r="2.1" fill="#a6cee3"/>
<circle cx="163.5" cy="371.8" r="2.1" fill="#a6cee3"/>
<circle cx="167.0" cy="371.8" r="2.1" fill="#a6cee3"/>
<line x1="201.20" y1="315.00" x2="201.20" y2="433.00" stroke="#558bb0" stroke-width="1.0"/>
<rect x="186.20" y="360.30" width="30.00" height="47.50" fill="none" stroke="#558bb0" stroke-width="1.0"/>
<line x1="186.20" y1="385.30" x2="216.20" y2="385.30" stroke="#1f70a9" stroke-width="1.9"/>
<circle cx="203.4" cy="315.0" r="2.1" fill="#1f78b4"/>
<circle cx="198.4" cy="322.0" r="2.1" fill="#1f78b4"/>
<circle cx="202.8" cy="322.3" r="2.1" fill="#1f78b4"/>
<circle cx="203.4" cy="327.9" r="2.1" fill="#1f78b4"/>
<circle cx="205.2" cy="330.5" r="2.1" fill="#1f78b4"/>
<circle cx="201.4" cy="332.8" r="2.1" fill="#1f78b4"/>
<circle cx="200.8" cy="338.5" r="2.1" fill="#1f78b4"/>
<circle cx="197.2" cy="342.7" r="2.1" fill="#1f78b4"/>
<circle cx="198.7" cy="345.8" r="2.1" fill="#1f78b4"/>
<circle cx="201.5" cy="347.4" r="2.1" fill="#1f78b4"/>
<circle cx="204.3" cy="353.0" r="2.1" fill="#1f78b4"/>
<circle cx="198.6" cy="356.4" r="2.1" fill="#1f78b4"/>
<circle cx="204.2" cy="359.1" r="2.1" fill="#1f78b4"/>
<circle cx="203.7" cy="362.2" r="2.1" fill="#1f78b4"/>
<circle cx="203.8" cy="363.7" r="2.1" fill="#1f78b4"/>
<circle cx="199.0" cy="365.1" r="2.1" fill="#1f78b4"/>
<circle cx="203.0" cy="367.0" r="2.1" fill="#1f78b4"/>
<circle cx="201.3" cy="368.2" r="2.1" fill="#1f78b4"/>
<circle cx="201.4" cy="371.4" r="2.1" fill="#1f78b4"/>
<circle cx="199.0" cy="373.1" r="2.1" fill="#1f78b4"/>
<circle cx="200.1" cy="375.0" r="2.1" fill="#1f78b4"/>
<circle cx="200.9" cy="376.5" r="2.1" fill="#1f78b4"/>
<circle cx="198.5" cy="378.1" r="2.1" fill="#1f78b4"/>
<circle cx="203.8" cy="380.4" r="2.1" fill="#1f78b4"/>
<circle cx="197.7" cy="382.2" r="2.1" fill="#1f78b4"/>
<circle cx="200.7" cy="384.0" r="2.1" fill="#1f78b4"/>
<circle cx="205.8" cy="385.4" r="2.1" fill="#1f78b4"/>
<circle cx="201.5" cy="388.4" r="2.1" fill="#1f78b4"/>
<circle cx="200.5" cy="389.5" r="2.1" fill="#1f78b4"/>
<circle cx="199.7" cy="391.0" r="2.1" fill="#1f78b4"/>
<circle cx="203.9" cy="393.8" r="2.1" fill="#1f78b4"/>
<circle cx="199.2" cy="394.0" r="2.1" fill="#1f78b4"/>
<circle cx="200.5" cy="396.9" r="2.1" fill="#1f78b4"/>
<circle cx="199.4" cy="399.0" r="2.1" fill="#1f78b4"/>
<circle cx="199.5" cy="400.5" r="2.1" fill="#1f78b4"/>
<circle cx="197.3" cy="401.6" r="2.1" fill="#1f78b4"/>
<circle cx="204.1" cy="402.7" r="2.1" fill="#1f78b4"/>
<circle cx="203.9" cy="405.3" r="2.1" fill="#1f78b4"/>
<circle cx="199.3" cy="406.8" r="2.1" fill="#1f78b4"/>
<circle cx="196.4" cy="409.4" r="2.1" fill="#1f78b4"/>
<circle cx="202.4" cy="410.8" r="2.1" fill="#1f78b4"/>
<circle cx="203.0" cy="413.4" r="2.1" fill="#1f78b4"/>
<circle cx="198.2" cy="414.0" r="2.1" fill="#1f78b4"/>
<circle cx="203.7" cy="415.7" r="2.1" fill="#1f78b4"/>
<circle cx="199.0" cy="418.9" r="2.1" fill="#1f78b4"/>
<circle cx="202.4" cy="420.3" r="2.1" fill="#1f78b4"/>
<circle cx="204.7" cy="423.3" r="2.1" fill="#1f78b4"/>
<circle cx="199.2" cy="424.0" r="2.1" fill="#1f78b4"/>
<circle cx="204.5" cy="425.5" r="2.1" fill="#1f78b4"/>
<circle cx="198.8" cy="428.9" r="2.1" fill="#1f78b4"/>
<circle cx="199.3" cy="429.6" r="2.1" fill="#1f78b4"/>
<circle cx="204.2" cy="433.0" r="2.1" fill="#1f78b4"/>
<circle cx="201.2" cy="439.0" r="2.1" fill="#1f78b4"/>
<circle cx="203.2" cy="316.0" r="2.1" fill="#1f78b4"/>
<circle cx="205.2" cy="318.0" r="2.1" fill="#1f78b4"/>
<line x1="81.00" y1="293.90" x2="114.60" y2="293.90" stroke="#6f8799" stroke-width="1.2"/>
<text x="98.40" y="287.60" font-size="9" text-anchor="middle" font-weight="normal" fill="#333333" >p<tspan font-size="10.5" stroke="#333" stroke-width="0.2" dx="1.2">&lt;</tspan><tspan dx="1.6">0.01</tspan></text>
<line x1="169.00" y1="285.00" x2="201.20" y2="285.00" stroke="#6f8799" stroke-width="1.2"/>
<text x="185.70" y="278.70" font-size="9" text-anchor="middle" font-weight="normal" fill="#333333" >p<tspan font-size="10.5" stroke="#333" stroke-width="0.2" dx="1.2">&lt;</tspan><tspan dx="1.6">0.01</tspan></text>
<text x="358.60" y="262.70" font-size="13" text-anchor="start" font-weight="bold" fill="#111" >D</text>
<text x="488.30" y="262.80" font-size="9.7" text-anchor="start" font-weight="normal" fill="#333333" >Before</text>
<text x="542.00" y="262.80" font-size="9.7" text-anchor="start" font-weight="normal" fill="#333333" >After</text>
<line x1="526.60" y1="253.60" x2="526.60" y2="265.00" stroke="#b8d3e1" stroke-width="0.9"/>
<rect x="520.90" y="256.20" width="11.40" height="6.20" fill="none" stroke="#b8d3e1" stroke-width="0.8"/>
<line x1="520.90" y1="259.30" x2="532.30" y2="259.30" stroke="#b8d3e1" stroke-width="0.8"/>
<circle cx="526.6" cy="259.3" r="2.4" fill="#a6cee3"/>
<line x1="573.00" y1="253.60" x2="573.00" y2="265.00" stroke="#558bb0" stroke-width="0.9"/>
<rect x="567.30" y="256.20" width="11.40" height="6.20" fill="none" stroke="#558bb0" stroke-width="0.8"/>
<line x1="567.30" y1="259.30" x2="578.70" y2="259.30" stroke="#558bb0" stroke-width="0.8"/>
<circle cx="573.0" cy="259.3" r="2.4" fill="#1f78b4"/>
<line x1="400.00" y1="291.20" x2="400.00" y2="442.30" stroke="#5a5a5a" stroke-width="1.25"/>
<line x1="396.50" y1="442.30" x2="674.40" y2="442.30" stroke="#5a5a5a" stroke-width="1.25"/>
<line x1="396.50" y1="291.20" x2="400.00" y2="291.20" stroke="#5a5a5a" stroke-width="1.0"/>
<text x="392.00" y="294.60" font-size="11.5" text-anchor="end" font-weight="normal" fill="#333333" >100</text>
<line x1="396.50" y1="328.98" x2="400.00" y2="328.98" stroke="#5a5a5a" stroke-width="1.0"/>
<text x="392.00" y="332.38" font-size="11.5" text-anchor="end" font-weight="normal" fill="#333333" >75</text>
<line x1="396.50" y1="366.75" x2="400.00" y2="366.75" stroke="#5a5a5a" stroke-width="1.0"/>
<text x="392.00" y="370.15" font-size="11.5" text-anchor="end" font-weight="normal" fill="#333333" >50</text>
<line x1="396.50" y1="404.53" x2="400.00" y2="404.53" stroke="#5a5a5a" stroke-width="1.0"/>
<text x="392.00" y="407.93" font-size="11.5" text-anchor="end" font-weight="normal" fill="#333333" >25</text>
<line x1="396.50" y1="442.30" x2="400.00" y2="442.30" stroke="#5a5a5a" stroke-width="1.0"/>
<text x="392.00" y="445.70" font-size="11.5" text-anchor="end" font-weight="normal" fill="#333333" >0</text>
<text x="0" y="0" font-size="12.3" text-anchor="middle" fill="#333333" transform="translate(366,363.5) rotate(-90)">SF-12 score</text>
<text x="450.00" y="457.50" font-size="11.8" text-anchor="middle" font-weight="normal" fill="#333333" >Total</text>
<text x="537.50" y="457.50" font-size="11.8" text-anchor="middle" font-weight="normal" fill="#333333" >Physical</text>
<text x="624.00" y="457.50" font-size="11.8" text-anchor="middle" font-weight="normal" fill="#333333" >Mental</text>
<line x1="433.00" y1="327.30" x2="433.00" y2="426.90" stroke="#b8d3e1" stroke-width="1.0"/>
<rect x="418.00" y="357.80" width="30.00" height="35.60" fill="none" stroke="#b8d3e1" stroke-width="1.0"/>
<line x1="418.00" y1="378.10" x2="448.00" y2="378.10" stroke="#a3c8dd" stroke-width="1.6"/>
<circle cx="430.0" cy="327.3" r="2.1" fill="#a6cee3"/>
<circle cx="430.8" cy="333.7" r="2.1" fill="#a6cee3"/>
<circle cx="434.6" cy="335.7" r="2.1" fill="#a6cee3"/>
<circle cx="434.0" cy="340.7" r="2.1" fill="#a6cee3"/>
<circle cx="432.6" cy="343.1" r="2.1" fill="#a6cee3"/>
<circle cx="430.7" cy="347.1" r="2.1" fill="#a6cee3"/>
<circle cx="432.4" cy="349.5" r="2.1" fill="#a6cee3"/>
<circle cx="431.5" cy="350.4" r="2.1" fill="#a6cee3"/>
<circle cx="430.5" cy="352.2" r="2.1" fill="#a6cee3"/>
<circle cx="437.6" cy="354.6" r="2.1" fill="#a6cee3"/>
<circle cx="430.0" cy="355.8" r="2.1" fill="#a6cee3"/>
<circle cx="428.5" cy="357.4" r="2.1" fill="#a6cee3"/>
<circle cx="434.0" cy="357.8" r="2.1" fill="#a6cee3"/>
<circle cx="434.5" cy="359.0" r="2.1" fill="#a6cee3"/>
<circle cx="431.4" cy="360.4" r="2.1" fill="#a6cee3"/>
<circle cx="431.7" cy="361.4" r="2.1" fill="#a6cee3"/>
<circle cx="436.6" cy="363.5" r="2.1" fill="#a6cee3"/>
<circle cx="437.9" cy="365.6" r="2.1" fill="#a6cee3"/>
<circle cx="430.1" cy="366.1" r="2.1" fill="#a6cee3"/>
<circle cx="434.0" cy="368.0" r="2.1" fill="#a6cee3"/>
<circle cx="436.7" cy="369.0" r="2.1" fill="#a6cee3"/>
<circle cx="429.9" cy="371.4" r="2.1" fill="#a6cee3"/>
<circle cx="434.6" cy="373.3" r="2.1" fill="#a6cee3"/>
<circle cx="432.6" cy="373.7" r="2.1" fill="#a6cee3"/>
<circle cx="435.5" cy="375.7" r="2.1" fill="#a6cee3"/>
<circle cx="428.6" cy="376.7" r="2.1" fill="#a6cee3"/>
<circle cx="430.8" cy="378.2" r="2.1" fill="#a6cee3"/>
<circle cx="435.9" cy="380.1" r="2.1" fill="#a6cee3"/>
<circle cx="435.0" cy="381.0" r="2.1" fill="#a6cee3"/>
<circle cx="434.0" cy="382.1" r="2.1" fill="#a6cee3"/>
<circle cx="430.6" cy="382.9" r="2.1" fill="#a6cee3"/>
<circle cx="435.1" cy="384.8" r="2.1" fill="#a6cee3"/>
<circle cx="430.6" cy="386.1" r="2.1" fill="#a6cee3"/>
<circle cx="432.2" cy="387.5" r="2.1" fill="#a6cee3"/>
<circle cx="431.6" cy="388.0" r="2.1" fill="#a6cee3"/>
<circle cx="429.2" cy="388.7" r="2.1" fill="#a6cee3"/>
<circle cx="433.8" cy="389.9" r="2.1" fill="#a6cee3"/>
<circle cx="435.3" cy="391.3" r="2.1" fill="#a6cee3"/>
<circle cx="432.6" cy="392.4" r="2.1" fill="#a6cee3"/>
<circle cx="435.8" cy="393.5" r="2.1" fill="#a6cee3"/>
<circle cx="434.7" cy="394.3" r="2.1" fill="#a6cee3"/>
<circle cx="432.8" cy="395.7" r="2.1" fill="#a6cee3"/>
<circle cx="435.7" cy="396.4" r="2.1" fill="#a6cee3"/>
<circle cx="434.7" cy="399.9" r="2.1" fill="#a6cee3"/>
<circle cx="435.2" cy="400.4" r="2.1" fill="#a6cee3"/>
<circle cx="430.3" cy="403.5" r="2.1" fill="#a6cee3"/>
<circle cx="432.3" cy="406.0" r="2.1" fill="#a6cee3"/>
<circle cx="430.5" cy="409.8" r="2.1" fill="#a6cee3"/>
<circle cx="434.9" cy="413.9" r="2.1" fill="#a6cee3"/>
<circle cx="435.7" cy="417.1" r="2.1" fill="#a6cee3"/>
<circle cx="435.4" cy="419.4" r="2.1" fill="#a6cee3"/>
<circle cx="435.4" cy="426.9" r="2.1" fill="#a6cee3"/>
<line x1="468.60" y1="290.40" x2="468.60" y2="408.50" stroke="#558bb0" stroke-width="1.0"/>
<rect x="453.60" y="309.40" width="30.00" height="46.30" fill="none" stroke="#558bb0" stroke-width="1.0"/>
<line x1="453.60" y1="326.40" x2="483.60" y2="326.40" stroke="#1f70a9" stroke-width="1.9"/>
<circle cx="466.5" cy="290.4" r="2.1" fill="#1f78b4"/>
<circle cx="468.6" cy="294.9" r="2.1" fill="#1f78b4"/>
<circle cx="468.7" cy="295.3" r="2.1" fill="#1f78b4"/>
<circle cx="473.2" cy="298.3" r="2.1" fill="#1f78b4"/>
<circle cx="463.8" cy="299.9" r="2.1" fill="#1f78b4"/>
<circle cx="463.9" cy="301.3" r="2.1" fill="#1f78b4"/>
<circle cx="472.2" cy="304.1" r="2.1" fill="#1f78b4"/>
<circle cx="466.0" cy="304.6" r="2.1" fill="#1f78b4"/>
<circle cx="466.1" cy="306.8" r="2.1" fill="#1f78b4"/>
<circle cx="466.0" cy="306.9" r="2.1" fill="#1f78b4"/>
<circle cx="466.2" cy="308.1" r="2.1" fill="#1f78b4"/>
<circle cx="465.3" cy="309.1" r="2.1" fill="#1f78b4"/>
<circle cx="469.2" cy="309.4" r="2.1" fill="#1f78b4"/>
<circle cx="469.2" cy="310.4" r="2.1" fill="#1f78b4"/>
<circle cx="466.6" cy="311.1" r="2.1" fill="#1f78b4"/>
<circle cx="468.2" cy="313.3" r="2.1" fill="#1f78b4"/>
<circle cx="471.1" cy="313.9" r="2.1" fill="#1f78b4"/>
<circle cx="466.2" cy="315.5" r="2.1" fill="#1f78b4"/>
<circle cx="465.4" cy="316.8" r="2.1" fill="#1f78b4"/>
<circle cx="466.9" cy="317.7" r="2.1" fill="#1f78b4"/>
<circle cx="472.8" cy="318.6" r="2.1" fill="#1f78b4"/>
<circle cx="468.5" cy="321.1" r="2.1" fill="#1f78b4"/>
<circle cx="469.6" cy="322.3" r="2.1" fill="#1f78b4"/>
<circle cx="466.5" cy="323.1" r="2.1" fill="#1f78b4"/>
<circle cx="465.5" cy="324.7" r="2.1" fill="#1f78b4"/>
<circle cx="469.6" cy="325.8" r="2.1" fill="#1f78b4"/>
<circle cx="466.1" cy="327.9" r="2.1" fill="#1f78b4"/>
<circle cx="463.5" cy="328.7" r="2.1" fill="#1f78b4"/>
<circle cx="473.2" cy="332.2" r="2.1" fill="#1f78b4"/>
<circle cx="473.5" cy="333.9" r="2.1" fill="#1f78b4"/>
<circle cx="465.6" cy="336.4" r="2.1" fill="#1f78b4"/>
<circle cx="467.8" cy="338.0" r="2.1" fill="#1f78b4"/>
<circle cx="471.8" cy="341.5" r="2.1" fill="#1f78b4"/>
<circle cx="469.3" cy="343.9" r="2.1" fill="#1f78b4"/>
<circle cx="467.4" cy="346.5" r="2.1" fill="#1f78b4"/>
<circle cx="471.6" cy="346.8" r="2.1" fill="#1f78b4"/>
<circle cx="472.2" cy="348.9" r="2.1" fill="#1f78b4"/>
<circle cx="470.6" cy="352.7" r="2.1" fill="#1f78b4"/>
<circle cx="466.6" cy="353.7" r="2.1" fill="#1f78b4"/>
<circle cx="466.5" cy="356.4" r="2.1" fill="#1f78b4"/>
<circle cx="470.8" cy="357.0" r="2.1" fill="#1f78b4"/>
<circle cx="466.5" cy="359.7" r="2.1" fill="#1f78b4"/>
<circle cx="464.3" cy="360.4" r="2.1" fill="#1f78b4"/>
<circle cx="473.4" cy="364.4" r="2.1" fill="#1f78b4"/>
<circle cx="464.9" cy="368.9" r="2.1" fill="#1f78b4"/>
<circle cx="468.6" cy="374.1" r="2.1" fill="#1f78b4"/>
<circle cx="473.9" cy="375.0" r="2.1" fill="#1f78b4"/>
<circle cx="466.9" cy="380.1" r="2.1" fill="#1f78b4"/>
<circle cx="465.2" cy="386.7" r="2.1" fill="#1f78b4"/>
<circle cx="467.8" cy="393.1" r="2.1" fill="#1f78b4"/>
<circle cx="470.2" cy="398.6" r="2.1" fill="#1f78b4"/>
<circle cx="471.0" cy="408.5" r="2.1" fill="#1f78b4"/>
<line x1="520.40" y1="310.30" x2="520.40" y2="435.40" stroke="#b8d3e1" stroke-width="1.0"/>
<rect x="505.40" y="360.30" width="30.00" height="36.10" fill="none" stroke="#b8d3e1" stroke-width="1.0"/>
<line x1="505.40" y1="380.30" x2="535.40" y2="380.30" stroke="#a3c8dd" stroke-width="1.6"/>
<circle cx="521.7" cy="310.3" r="2.1" fill="#a6cee3"/>
<circle cx="522.0" cy="318.4" r="2.1" fill="#a6cee3"/>
<circle cx="517.6" cy="327.8" r="2.1" fill="#a6cee3"/>
<circle cx="520.4" cy="331.6" r="2.1" fill="#a6cee3"/>
<circle cx="519.8" cy="336.2" r="2.1" fill="#a6cee3"/>
<circle cx="519.0" cy="341.3" r="2.1" fill="#a6cee3"/>
<circle cx="516.4" cy="344.9" r="2.1" fill="#a6cee3"/>
<circle cx="519.6" cy="349.5" r="2.1" fill="#a6cee3"/>
<circle cx="520.9" cy="353.4" r="2.1" fill="#a6cee3"/>
<circle cx="515.6" cy="353.9" r="2.1" fill="#a6cee3"/>
<circle cx="517.4" cy="356.8" r="2.1" fill="#a6cee3"/>
<circle cx="517.7" cy="359.4" r="2.1" fill="#a6cee3"/>
<circle cx="519.1" cy="359.9" r="2.1" fill="#a6cee3"/>
<circle cx="518.9" cy="361.1" r="2.1" fill="#a6cee3"/>
<circle cx="518.2" cy="362.1" r="2.1" fill="#a6cee3"/>
<circle cx="522.5" cy="364.7" r="2.1" fill="#a6cee3"/>
<circle cx="518.2" cy="365.1" r="2.1" fill="#a6cee3"/>
<circle cx="517.3" cy="366.9" r="2.1" fill="#a6cee3"/>
<circle cx="517.6" cy="368.3" r="2.1" fill="#a6cee3"/>
<circle cx="520.2" cy="370.2" r="2.1" fill="#a6cee3"/>
<circle cx="522.5" cy="371.9" r="2.1" fill="#a6cee3"/>
<circle cx="520.3" cy="372.7" r="2.1" fill="#a6cee3"/>
<circle cx="516.4" cy="375.3" r="2.1" fill="#a6cee3"/>
<circle cx="520.7" cy="375.7" r="2.1" fill="#a6cee3"/>
<circle cx="524.0" cy="377.7" r="2.1" fill="#a6cee3"/>
<circle cx="520.4" cy="379.0" r="2.1" fill="#a6cee3"/>
<circle cx="516.8" cy="380.3" r="2.1" fill="#a6cee3"/>
<circle cx="520.1" cy="382.4" r="2.1" fill="#a6cee3"/>
<circle cx="517.9" cy="383.4" r="2.1" fill="#a6cee3"/>
<circle cx="520.3" cy="385.2" r="2.1" fill="#a6cee3"/>
<circle cx="522.6" cy="385.7" r="2.1" fill="#a6cee3"/>
<circle cx="517.4" cy="386.6" r="2.1" fill="#a6cee3"/>
<circle cx="518.5" cy="388.5" r="2.1" fill="#a6cee3"/>
<circle cx="525.1" cy="389.9" r="2.1" fill="#a6cee3"/>
<circle cx="523.7" cy="390.7" r="2.1" fill="#a6cee3"/>
<circle cx="522.6" cy="392.5" r="2.1" fill="#a6cee3"/>
<circle cx="523.5" cy="393.3" r="2.1" fill="#a6cee3"/>
<circle cx="518.8" cy="394.8" r="2.1" fill="#a6cee3"/>
<circle cx="521.1" cy="395.5" r="2.1" fill="#a6cee3"/>
<circle cx="517.1" cy="396.4" r="2.1" fill="#a6cee3"/>
<circle cx="524.6" cy="397.0" r="2.1" fill="#a6cee3"/>
<circle cx="525.0" cy="398.9" r="2.1" fill="#a6cee3"/>
<circle cx="523.8" cy="399.6" r="2.1" fill="#a6cee3"/>
<circle cx="522.4" cy="403.9" r="2.1" fill="#a6cee3"/>
<circle cx="515.7" cy="404.2" r="2.1" fill="#a6cee3"/>
<circle cx="518.7" cy="409.3" r="2.1" fill="#a6cee3"/>
<circle cx="523.3" cy="411.2" r="2.1" fill="#a6cee3"/>
<circle cx="524.9" cy="416.8" r="2.1" fill="#a6cee3"/>
<circle cx="517.7" cy="420.7" r="2.1" fill="#a6cee3"/>
<circle cx="521.3" cy="425.1" r="2.1" fill="#a6cee3"/>
<circle cx="519.2" cy="426.3" r="2.1" fill="#a6cee3"/>
<circle cx="520.1" cy="435.4" r="2.1" fill="#a6cee3"/>
<line x1="554.30" y1="290.40" x2="554.30" y2="416.30" stroke="#558bb0" stroke-width="1.0"/>
<rect x="539.30" y="307.30" width="30.00" height="46.20" fill="none" stroke="#558bb0" stroke-width="1.0"/>
<line x1="539.30" y1="325.10" x2="569.30" y2="325.10" stroke="#1f70a9" stroke-width="1.9"/>
<circle cx="555.2" cy="290.4" r="2.1" fill="#1f78b4"/>
<circle cx="557.2" cy="294.4" r="2.1" fill="#1f78b4"/>
<circle cx="553.8" cy="296.4" r="2.1" fill="#1f78b4"/>
<circle cx="554.4" cy="296.7" r="2.1" fill="#1f78b4"/>
<circle cx="555.4" cy="298.7" r="2.1" fill="#1f78b4"/>
<circle cx="551.9" cy="301.0" r="2.1" fill="#1f78b4"/>
<circle cx="554.8" cy="301.8" r="2.1" fill="#1f78b4"/>
<circle cx="558.1" cy="303.7" r="2.1" fill="#1f78b4"/>
<circle cx="552.8" cy="304.7" r="2.1" fill="#1f78b4"/>
<circle cx="554.6" cy="305.2" r="2.1" fill="#1f78b4"/>
<circle cx="553.5" cy="306.3" r="2.1" fill="#1f78b4"/>
<circle cx="557.0" cy="306.7" r="2.1" fill="#1f78b4"/>
<circle cx="556.5" cy="307.3" r="2.1" fill="#1f78b4"/>
<circle cx="552.0" cy="307.5" r="2.1" fill="#1f78b4"/>
<circle cx="553.4" cy="309.8" r="2.1" fill="#1f78b4"/>
<circle cx="556.5" cy="310.5" r="2.1" fill="#1f78b4"/>
<circle cx="558.1" cy="312.4" r="2.1" fill="#1f78b4"/>
<circle cx="551.7" cy="313.4" r="2.1" fill="#1f78b4"/>
<circle cx="553.1" cy="314.5" r="2.1" fill="#1f78b4"/>
<circle cx="551.0" cy="315.9" r="2.1" fill="#1f78b4"/>
<circle cx="551.4" cy="317.4" r="2.1" fill="#1f78b4"/>
<circle cx="554.6" cy="318.7" r="2.1" fill="#1f78b4"/>
<circle cx="558.4" cy="320.7" r="2.1" fill="#1f78b4"/>
<circle cx="550.2" cy="322.2" r="2.1" fill="#1f78b4"/>
<circle cx="552.6" cy="322.8" r="2.1" fill="#1f78b4"/>
<circle cx="553.1" cy="324.7" r="2.1" fill="#1f78b4"/>
<circle cx="558.2" cy="325.7" r="2.1" fill="#1f78b4"/>
<circle cx="554.5" cy="327.9" r="2.1" fill="#1f78b4"/>
<circle cx="554.3" cy="330.1" r="2.1" fill="#1f78b4"/>
<circle cx="554.8" cy="333.5" r="2.1" fill="#1f78b4"/>
<circle cx="556.4" cy="334.4" r="2.1" fill="#1f78b4"/>
<circle cx="559.0" cy="336.4" r="2.1" fill="#1f78b4"/>
<circle cx="557.7" cy="339.0" r="2.1" fill="#1f78b4"/>
<circle cx="554.0" cy="340.7" r="2.1" fill="#1f78b4"/>
<circle cx="552.0" cy="344.3" r="2.1" fill="#1f78b4"/>
<circle cx="557.7" cy="346.3" r="2.1" fill="#1f78b4"/>
<circle cx="555.2" cy="348.8" r="2.1" fill="#1f78b4"/>
<circle cx="553.6" cy="350.1" r="2.1" fill="#1f78b4"/>
<circle cx="553.6" cy="352.4" r="2.1" fill="#1f78b4"/>
<circle cx="557.5" cy="353.7" r="2.1" fill="#1f78b4"/>
<circle cx="557.0" cy="356.1" r="2.1" fill="#1f78b4"/>
<circle cx="558.4" cy="356.6" r="2.1" fill="#1f78b4"/>
<circle cx="555.9" cy="359.6" r="2.1" fill="#1f78b4"/>
<circle cx="551.7" cy="364.3" r="2.1" fill="#1f78b4"/>
<circle cx="555.5" cy="369.1" r="2.1" fill="#1f78b4"/>
<circle cx="558.0" cy="371.7" r="2.1" fill="#1f78b4"/>
<circle cx="556.8" cy="378.1" r="2.1" fill="#1f78b4"/>
<circle cx="554.5" cy="384.2" r="2.1" fill="#1f78b4"/>
<circle cx="552.7" cy="393.3" r="2.1" fill="#1f78b4"/>
<circle cx="558.3" cy="395.8" r="2.1" fill="#1f78b4"/>
<circle cx="551.0" cy="405.9" r="2.1" fill="#1f78b4"/>
<circle cx="554.3" cy="416.3" r="2.1" fill="#1f78b4"/>
<line x1="606.40" y1="328.50" x2="606.40" y2="429.00" stroke="#b8d3e1" stroke-width="1.0"/>
<rect x="591.40" y="360.30" width="30.00" height="39.90" fill="none" stroke="#b8d3e1" stroke-width="1.0"/>
<line x1="591.40" y1="381.10" x2="621.40" y2="381.10" stroke="#a3c8dd" stroke-width="1.6"/>
<circle cx="608.8" cy="328.5" r="2.1" fill="#a6cee3"/>
<circle cx="604.1" cy="335.9" r="2.1" fill="#a6cee3"/>
<circle cx="608.8" cy="338.4" r="2.1" fill="#a6cee3"/>
<circle cx="604.7" cy="343.1" r="2.1" fill="#a6cee3"/>
<circle cx="607.2" cy="345.5" r="2.1" fill="#a6cee3"/>
<circle cx="608.9" cy="347.4" r="2.1" fill="#a6cee3"/>
<circle cx="605.7" cy="351.1" r="2.1" fill="#a6cee3"/>
<circle cx="603.4" cy="353.3" r="2.1" fill="#a6cee3"/>
<circle cx="604.2" cy="354.7" r="2.1" fill="#a6cee3"/>
<circle cx="608.5" cy="356.1" r="2.1" fill="#a6cee3"/>
<circle cx="602.0" cy="357.9" r="2.1" fill="#a6cee3"/>
<circle cx="609.9" cy="359.5" r="2.1" fill="#a6cee3"/>
<circle cx="605.6" cy="360.2" r="2.1" fill="#a6cee3"/>
<circle cx="607.4" cy="360.7" r="2.1" fill="#a6cee3"/>
<circle cx="609.1" cy="362.7" r="2.1" fill="#a6cee3"/>
<circle cx="607.9" cy="364.8" r="2.1" fill="#a6cee3"/>
<circle cx="605.2" cy="365.3" r="2.1" fill="#a6cee3"/>
<circle cx="607.7" cy="367.4" r="2.1" fill="#a6cee3"/>
<circle cx="603.6" cy="369.2" r="2.1" fill="#a6cee3"/>
<circle cx="602.0" cy="371.2" r="2.1" fill="#a6cee3"/>
<circle cx="609.3" cy="371.7" r="2.1" fill="#a6cee3"/>
<circle cx="609.9" cy="373.3" r="2.1" fill="#a6cee3"/>
<circle cx="606.1" cy="374.7" r="2.1" fill="#a6cee3"/>
<circle cx="608.2" cy="376.6" r="2.1" fill="#a6cee3"/>
<circle cx="605.8" cy="378.6" r="2.1" fill="#a6cee3"/>
<circle cx="606.6" cy="380.1" r="2.1" fill="#a6cee3"/>
<circle cx="603.5" cy="381.9" r="2.1" fill="#a6cee3"/>
<circle cx="608.8" cy="383.0" r="2.1" fill="#a6cee3"/>
<circle cx="602.8" cy="385.2" r="2.1" fill="#a6cee3"/>
<circle cx="606.0" cy="386.0" r="2.1" fill="#a6cee3"/>
<circle cx="601.3" cy="388.1" r="2.1" fill="#a6cee3"/>
<circle cx="602.7" cy="389.4" r="2.1" fill="#a6cee3"/>
<circle cx="605.1" cy="391.1" r="2.1" fill="#a6cee3"/>
<circle cx="606.1" cy="391.6" r="2.1" fill="#a6cee3"/>
<circle cx="605.1" cy="394.1" r="2.1" fill="#a6cee3"/>
<circle cx="605.7" cy="395.8" r="2.1" fill="#a6cee3"/>
<circle cx="603.2" cy="396.8" r="2.1" fill="#a6cee3"/>
<circle cx="606.3" cy="398.3" r="2.1" fill="#a6cee3"/>
<circle cx="602.1" cy="400.0" r="2.1" fill="#a6cee3"/>
<circle cx="609.0" cy="400.3" r="2.1" fill="#a6cee3"/>
<circle cx="608.2" cy="401.4" r="2.1" fill="#a6cee3"/>
<circle cx="605.7" cy="401.5" r="2.1" fill="#a6cee3"/>
<circle cx="606.8" cy="402.9" r="2.1" fill="#a6cee3"/>
<circle cx="608.0" cy="404.8" r="2.1" fill="#a6cee3"/>
<circle cx="605.9" cy="406.8" r="2.1" fill="#a6cee3"/>
<circle cx="606.9" cy="409.9" r="2.1" fill="#a6cee3"/>
<circle cx="605.3" cy="411.7" r="2.1" fill="#a6cee3"/>
<circle cx="603.6" cy="414.4" r="2.1" fill="#a6cee3"/>
<circle cx="605.3" cy="416.7" r="2.1" fill="#a6cee3"/>
<circle cx="604.5" cy="418.8" r="2.1" fill="#a6cee3"/>
<circle cx="605.3" cy="422.3" r="2.1" fill="#a6cee3"/>
<circle cx="607.6" cy="429.0" r="2.1" fill="#a6cee3"/>
<line x1="640.90" y1="291.20" x2="640.90" y2="410.00" stroke="#558bb0" stroke-width="1.0"/>
<rect x="625.90" y="315.80" width="30.00" height="45.80" fill="none" stroke="#558bb0" stroke-width="1.0"/>
<line x1="625.90" y1="328.10" x2="655.90" y2="328.10" stroke="#1f70a9" stroke-width="1.9"/>
<circle cx="646.1" cy="291.2" r="2.1" fill="#1f78b4"/>
<circle cx="643.9" cy="297.0" r="2.1" fill="#1f78b4"/>
<circle cx="641.8" cy="297.3" r="2.1" fill="#1f78b4"/>
<circle cx="640.3" cy="302.0" r="2.1" fill="#1f78b4"/>
<circle cx="641.7" cy="304.0" r="2.1" fill="#1f78b4"/>
<circle cx="639.4" cy="307.2" r="2.1" fill="#1f78b4"/>
<circle cx="640.2" cy="309.0" r="2.1" fill="#1f78b4"/>
<circle cx="643.1" cy="310.1" r="2.1" fill="#1f78b4"/>
<circle cx="642.4" cy="311.3" r="2.1" fill="#1f78b4"/>
<circle cx="638.0" cy="313.6" r="2.1" fill="#1f78b4"/>
<circle cx="643.9" cy="314.2" r="2.1" fill="#1f78b4"/>
<circle cx="640.3" cy="315.4" r="2.1" fill="#1f78b4"/>
<circle cx="640.8" cy="315.6" r="2.1" fill="#1f78b4"/>
<circle cx="644.8" cy="316.7" r="2.1" fill="#1f78b4"/>
<circle cx="641.0" cy="317.0" r="2.1" fill="#1f78b4"/>
<circle cx="643.8" cy="318.0" r="2.1" fill="#1f78b4"/>
<circle cx="639.0" cy="318.9" r="2.1" fill="#1f78b4"/>
<circle cx="638.9" cy="319.6" r="2.1" fill="#1f78b4"/>
<circle cx="641.3" cy="321.4" r="2.1" fill="#1f78b4"/>
<circle cx="638.1" cy="321.8" r="2.1" fill="#1f78b4"/>
<circle cx="637.1" cy="323.1" r="2.1" fill="#1f78b4"/>
<circle cx="642.3" cy="323.6" r="2.1" fill="#1f78b4"/>
<circle cx="637.4" cy="324.5" r="2.1" fill="#1f78b4"/>
<circle cx="636.6" cy="325.8" r="2.1" fill="#1f78b4"/>
<circle cx="639.7" cy="326.5" r="2.1" fill="#1f78b4"/>
<circle cx="641.5" cy="327.4" r="2.1" fill="#1f78b4"/>
<circle cx="640.9" cy="328.9" r="2.1" fill="#1f78b4"/>
<circle cx="639.4" cy="332.4" r="2.1" fill="#1f78b4"/>
<circle cx="644.4" cy="334.0" r="2.1" fill="#1f78b4"/>
<circle cx="640.6" cy="336.2" r="2.1" fill="#1f78b4"/>
<circle cx="643.4" cy="340.3" r="2.1" fill="#1f78b4"/>
<circle cx="639.3" cy="342.7" r="2.1" fill="#1f78b4"/>
<circle cx="639.8" cy="345.0" r="2.1" fill="#1f78b4"/>
<circle cx="640.9" cy="347.0" r="2.1" fill="#1f78b4"/>
<circle cx="638.2" cy="349.8" r="2.1" fill="#1f78b4"/>
<circle cx="641.8" cy="351.6" r="2.1" fill="#1f78b4"/>
<circle cx="643.4" cy="354.9" r="2.1" fill="#1f78b4"/>
<circle cx="641.9" cy="357.8" r="2.1" fill="#1f78b4"/>
<circle cx="639.4" cy="361.0" r="2.1" fill="#1f78b4"/>
<circle cx="637.1" cy="361.9" r="2.1" fill="#1f78b4"/>
<circle cx="645.0" cy="362.9" r="2.1" fill="#1f78b4"/>
<circle cx="642.6" cy="364.9" r="2.1" fill="#1f78b4"/>
<circle cx="640.8" cy="366.7" r="2.1" fill="#1f78b4"/>
<circle cx="641.0" cy="368.2" r="2.1" fill="#1f78b4"/>
<circle cx="641.5" cy="372.6" r="2.1" fill="#1f78b4"/>
<circle cx="641.4" cy="376.1" r="2.1" fill="#1f78b4"/>
<circle cx="642.4" cy="382.7" r="2.1" fill="#1f78b4"/>
<circle cx="637.8" cy="386.2" r="2.1" fill="#1f78b4"/>
<circle cx="640.4" cy="389.4" r="2.1" fill="#1f78b4"/>
<circle cx="642.1" cy="395.4" r="2.1" fill="#1f78b4"/>
<circle cx="639.9" cy="402.0" r="2.1" fill="#1f78b4"/>
<circle cx="643.5" cy="410.0" r="2.1" fill="#1f78b4"/>
<line x1="433.00" y1="285.70" x2="466.00" y2="285.70" stroke="#6f8799" stroke-width="1.2"/>
<text x="450.10" y="279.40" font-size="9" text-anchor="middle" font-weight="normal" fill="#333333" >p<tspan font-size="10.5" stroke="#333" stroke-width="0.2" dx="1.2">&lt;</tspan><tspan dx="1.6">0.01</tspan></text>
<line x1="517.50" y1="287.60" x2="550.90" y2="287.60" stroke="#6f8799" stroke-width="1.2"/>
<text x="534.80" y="281.30" font-size="9" text-anchor="middle" font-weight="normal" fill="#333333" >p<tspan font-size="10.5" stroke="#333" stroke-width="0.2" dx="1.2">&lt;</tspan><tspan dx="1.6">0.01</tspan></text>
<line x1="607.40" y1="286.10" x2="640.50" y2="286.10" stroke="#6f8799" stroke-width="1.2"/>
<text x="624.55" y="279.80" font-size="9" text-anchor="middle" font-weight="normal" fill="#333333" >p<tspan font-size="10.5" stroke="#333" stroke-width="0.2" dx="1.2">&lt;</tspan><tspan dx="1.6">0.01</tspan></text>
</svg>
</body></html>
